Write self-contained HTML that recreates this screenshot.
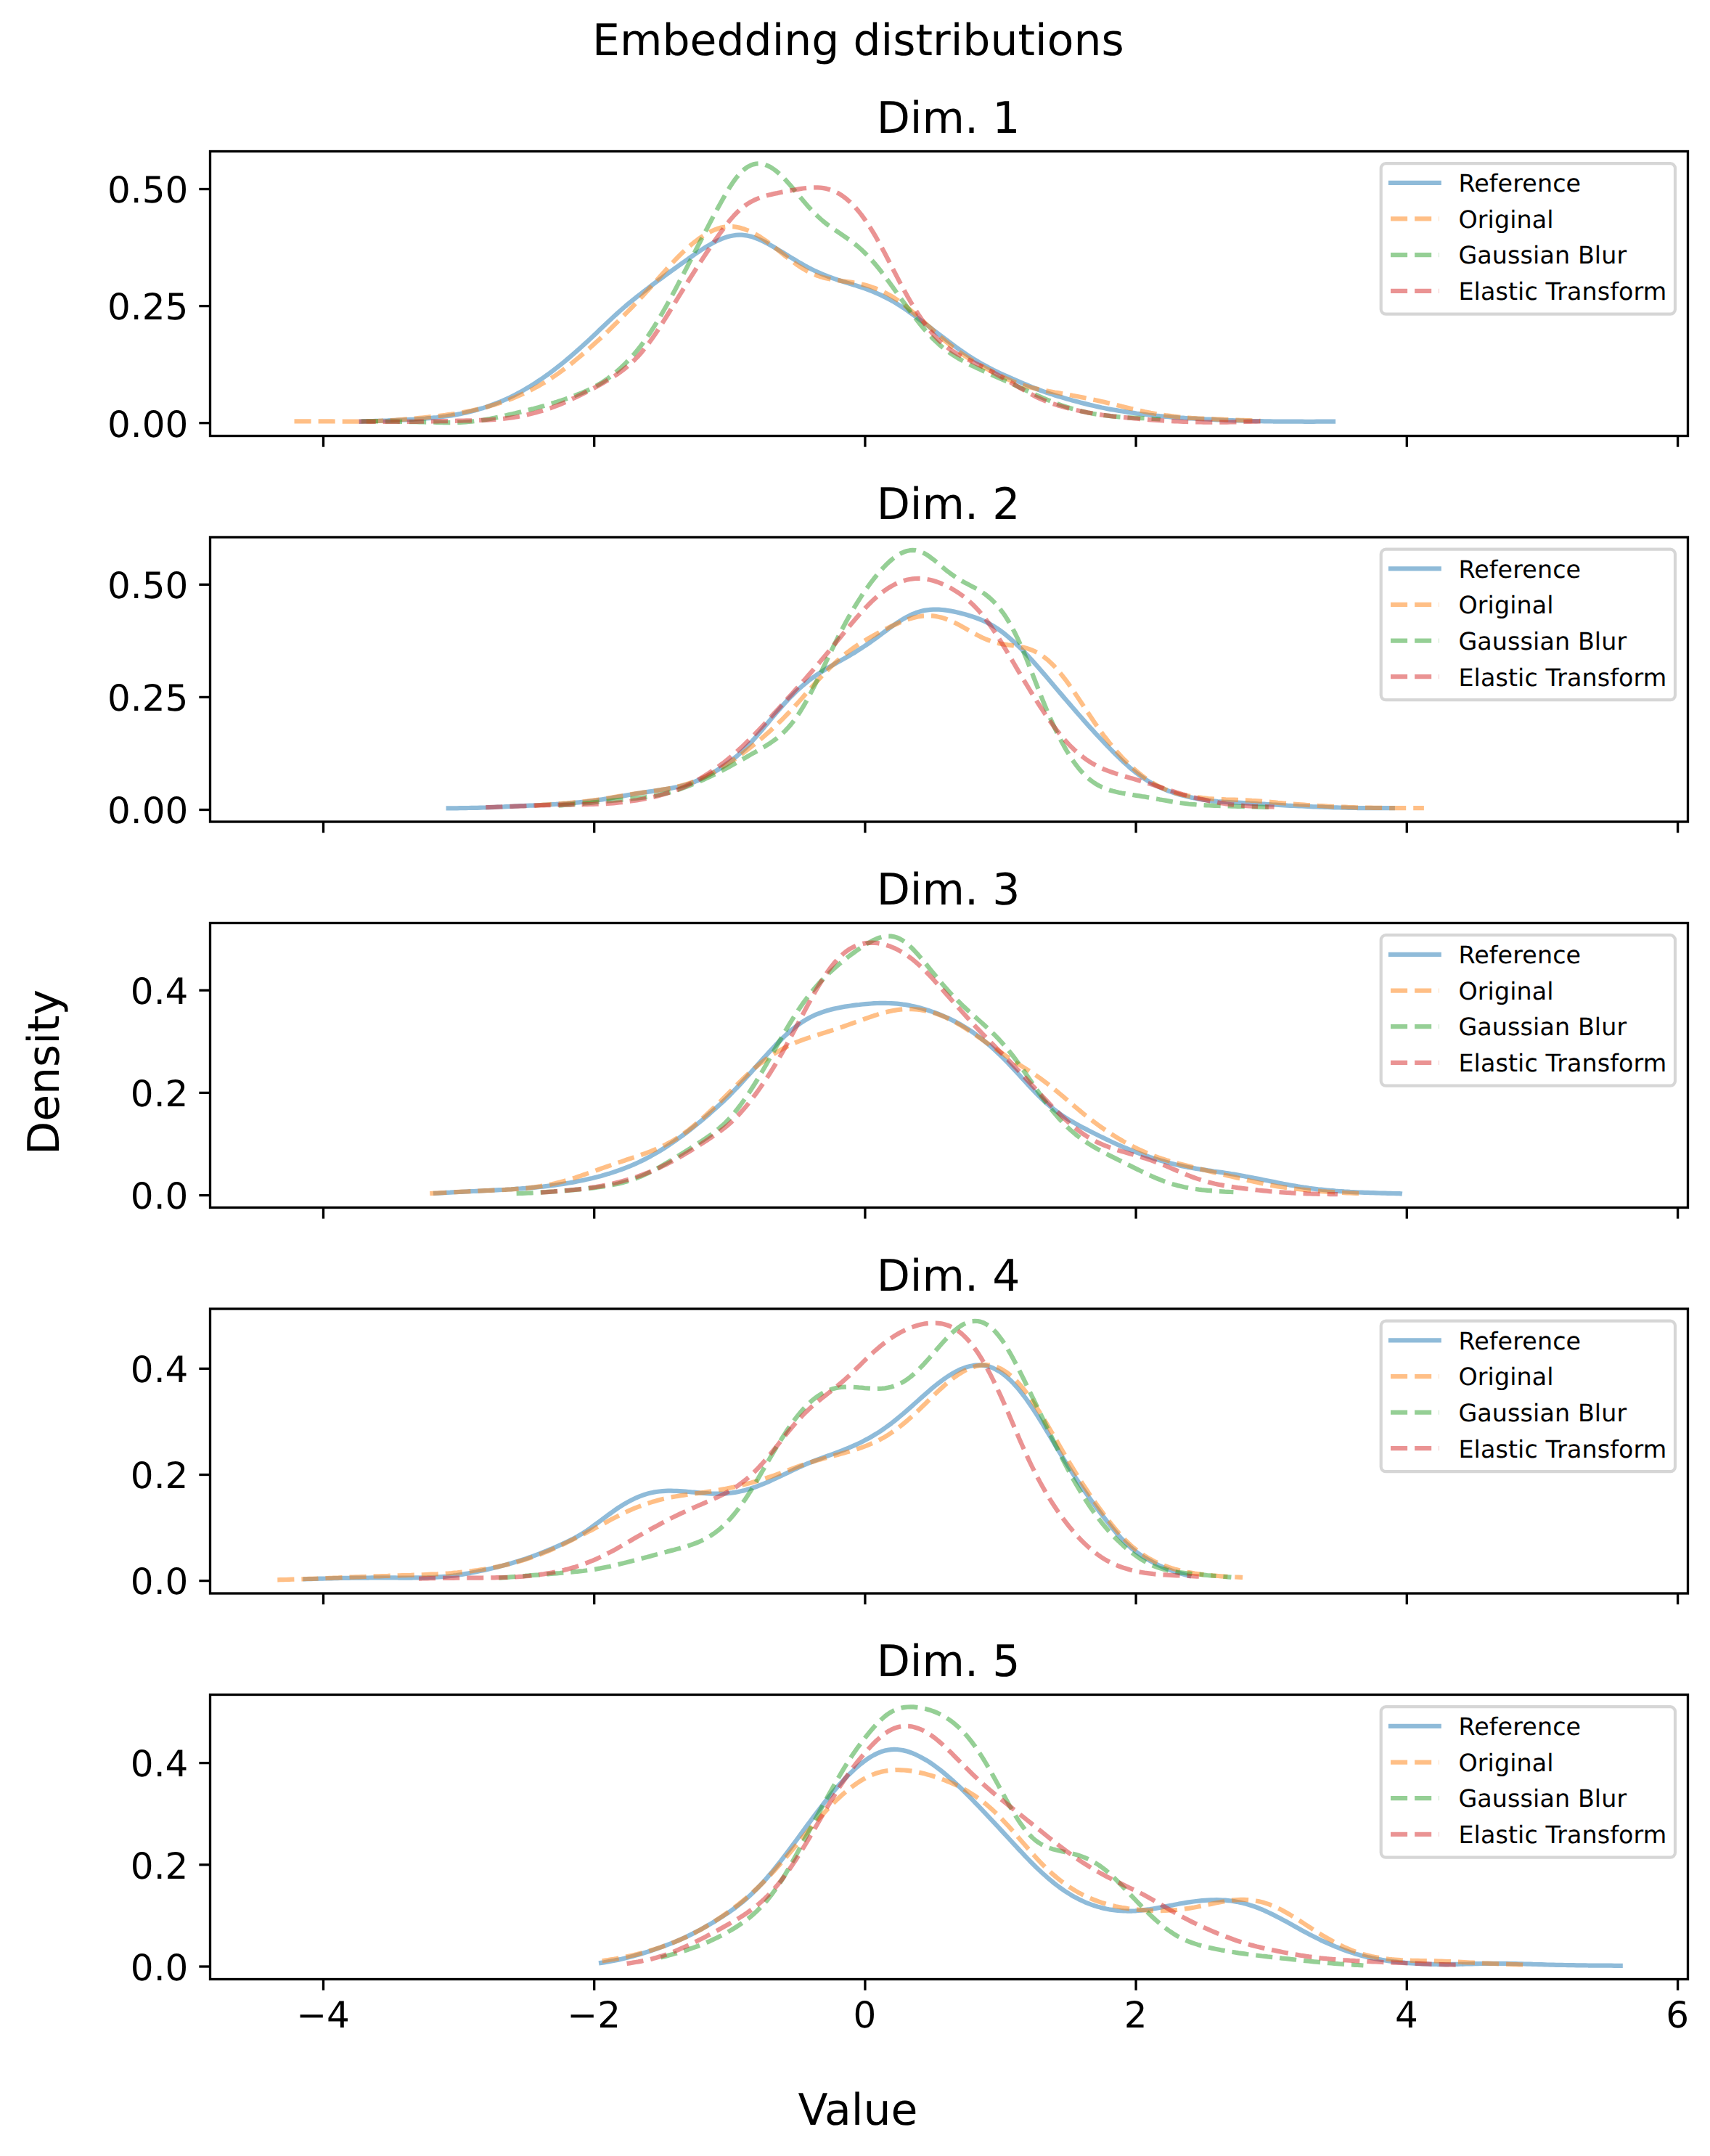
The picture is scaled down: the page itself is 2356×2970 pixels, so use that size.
<!DOCTYPE html>
<html><head><meta charset="utf-8"><title>Embedding distributions</title>
<style>html,body{margin:0;padding:0;background:#fff}svg{display:block}text{fill:#000;text-rendering:geometricPrecision}</style></head><body>
<svg width="2356" height="2970" viewBox="0 0 2356 2970">
<rect width="2356" height="2970" fill="#fff"/>
<text x="1182.4" y="75.8" font-size="60" text-anchor="middle" font-family="DejaVu Sans, Liberation Sans, sans-serif">Embedding distributions</text>
<text x="1182" y="2927" font-size="60" text-anchor="middle" font-family="DejaVu Sans, Liberation Sans, sans-serif">Value</text>
<text transform="translate(81 1477) rotate(-90)" font-size="60" text-anchor="middle" font-family="DejaVu Sans, Liberation Sans, sans-serif">Density</text>
<g id="ax1">
<clipPath id="clip1"><rect x="289.5" y="208.5" width="2036.0" height="392.0"/></clipPath>
<g clip-path="url(#clip1)" fill="none" stroke-width="6.25" stroke-opacity="0.5" stroke-linejoin="round">
<path d="M498.0 580.6 L502.0 580.4 L506.0 580.3 L510.0 580.2 L514.0 580.1 L518.0 579.9 L522.0 579.8 L526.0 579.7 L530.0 579.5 L534.0 579.4 L538.0 579.2 L542.0 579.1 L546.0 578.9 L550.0 578.7 L554.0 578.5 L558.0 578.3 L562.0 578.1 L566.0 577.9 L570.0 577.7 L574.0 577.4 L578.0 577.1 L582.0 576.8 L586.0 576.5 L590.0 576.1 L594.0 575.8 L598.0 575.4 L602.0 575.0 L606.0 574.5 L610.0 574.0 L614.0 573.5 L618.0 572.9 L622.0 572.3 L626.0 571.6 L630.0 570.9 L634.0 570.1 L638.0 569.2 L642.0 568.4 L646.0 567.4 L650.0 566.4 L654.0 565.4 L658.0 564.3 L662.0 563.1 L666.0 561.9 L670.0 560.6 L674.0 559.2 L678.0 557.8 L682.0 556.3 L686.0 554.7 L690.0 553.1 L694.0 551.4 L698.0 549.6 L702.0 547.7 L706.0 545.7 L710.0 543.7 L714.0 541.6 L718.0 539.4 L722.0 537.1 L726.0 534.8 L730.0 532.4 L734.0 529.9 L738.0 527.4 L742.0 524.7 L746.0 522.0 L750.0 519.2 L754.0 516.4 L758.0 513.4 L762.0 510.5 L766.0 507.4 L770.0 504.3 L774.0 501.1 L778.0 497.8 L782.0 494.5 L786.0 491.1 L790.0 487.7 L794.0 484.2 L798.0 480.6 L802.0 477.0 L806.0 473.4 L810.0 469.7 L814.0 466.0 L818.0 462.2 L822.0 458.4 L826.0 454.6 L830.0 450.8 L834.0 447.0 L838.0 443.2 L842.0 439.5 L846.0 435.8 L850.0 432.1 L854.0 428.5 L858.0 425.0 L862.0 421.5 L866.0 418.2 L870.0 414.9 L874.0 411.7 L878.0 408.5 L882.0 405.4 L886.0 402.3 L890.0 399.2 L894.0 396.1 L898.0 393.1 L902.0 390.1 L906.0 387.1 L910.0 384.2 L914.0 381.2 L918.0 378.3 L922.0 375.4 L926.0 372.5 L930.0 369.6 L934.0 366.7 L938.0 363.9 L942.0 361.0 L946.0 358.2 L950.0 355.4 L954.0 352.6 L958.0 349.8 L962.0 347.1 L966.0 344.5 L970.0 341.9 L974.0 339.4 L978.0 337.1 L982.0 334.8 L986.0 332.8 L990.0 330.8 L994.0 329.1 L998.0 327.6 L1002.0 326.3 L1006.0 325.3 L1010.0 324.5 L1014.0 323.9 L1018.0 323.7 L1022.0 323.7 L1026.0 324.1 L1030.0 324.7 L1034.0 325.6 L1038.0 326.7 L1042.0 328.2 L1046.0 329.8 L1050.0 331.6 L1054.0 333.6 L1058.0 335.7 L1062.0 338.0 L1066.0 340.3 L1070.0 342.7 L1074.0 345.1 L1078.0 347.5 L1082.0 350.0 L1086.0 352.5 L1090.0 354.9 L1094.0 357.3 L1098.0 359.7 L1102.0 362.1 L1106.0 364.3 L1110.0 366.6 L1114.0 368.7 L1118.0 370.8 L1122.0 372.7 L1126.0 374.6 L1130.0 376.4 L1134.0 378.1 L1138.0 379.7 L1142.0 381.3 L1146.0 382.7 L1150.0 384.1 L1154.0 385.5 L1158.0 386.8 L1162.0 388.0 L1166.0 389.3 L1170.0 390.5 L1174.0 391.7 L1178.0 392.9 L1182.0 394.2 L1186.0 395.5 L1190.0 396.9 L1194.0 398.3 L1198.0 399.8 L1202.0 401.4 L1206.0 403.1 L1210.0 404.8 L1214.0 406.6 L1218.0 408.6 L1222.0 410.6 L1226.0 412.7 L1230.0 414.9 L1234.0 417.3 L1238.0 419.8 L1242.0 422.3 L1246.0 425.0 L1250.0 427.8 L1254.0 430.6 L1258.0 433.5 L1262.0 436.4 L1266.0 439.4 L1270.0 442.4 L1274.0 445.4 L1278.0 448.5 L1282.0 451.5 L1286.0 454.6 L1290.0 457.7 L1294.0 460.7 L1298.0 463.8 L1302.0 466.8 L1306.0 469.8 L1310.0 472.8 L1314.0 475.8 L1318.0 478.7 L1322.0 481.6 L1326.0 484.4 L1330.0 487.1 L1334.0 489.8 L1338.0 492.4 L1342.0 494.9 L1346.0 497.3 L1350.0 499.6 L1354.0 501.9 L1358.0 504.1 L1362.0 506.3 L1366.0 508.3 L1370.0 510.4 L1374.0 512.3 L1378.0 514.2 L1382.0 516.0 L1386.0 517.8 L1390.0 519.6 L1394.0 521.4 L1398.0 523.1 L1402.0 524.9 L1406.0 526.6 L1410.0 528.3 L1414.0 530.0 L1418.0 531.7 L1422.0 533.3 L1426.0 534.9 L1430.0 536.5 L1434.0 538.0 L1438.0 539.4 L1442.0 540.8 L1446.0 542.1 L1450.0 543.4 L1454.0 544.7 L1458.0 545.9 L1462.0 547.1 L1466.0 548.3 L1470.0 549.4 L1474.0 550.6 L1478.0 551.7 L1482.0 552.7 L1486.0 553.8 L1490.0 554.9 L1494.0 555.9 L1498.0 556.9 L1502.0 557.9 L1506.0 558.8 L1510.0 559.7 L1514.0 560.6 L1518.0 561.5 L1522.0 562.3 L1526.0 563.1 L1530.0 563.8 L1534.0 564.5 L1538.0 565.2 L1542.0 565.9 L1546.0 566.5 L1550.0 567.1 L1554.0 567.8 L1558.0 568.4 L1562.0 568.9 L1566.0 569.5 L1570.0 570.0 L1574.0 570.5 L1578.0 571.0 L1582.0 571.5 L1586.0 571.9 L1590.0 572.4 L1594.0 572.8 L1598.0 573.2 L1602.0 573.5 L1606.0 573.9 L1610.0 574.2 L1614.0 574.6 L1618.0 574.9 L1622.0 575.2 L1626.0 575.5 L1630.0 575.7 L1634.0 576.0 L1638.0 576.3 L1642.0 576.5 L1646.0 576.7 L1650.0 576.9 L1654.0 577.1 L1658.0 577.3 L1662.0 577.5 L1666.0 577.7 L1670.0 577.9 L1674.0 578.1 L1678.0 578.3 L1682.0 578.5 L1686.0 578.7 L1690.0 578.8 L1694.0 579.0 L1698.0 579.1 L1702.0 579.3 L1706.0 579.4 L1710.0 579.5 L1714.0 579.7 L1718.0 579.8 L1722.0 579.9 L1726.0 580.0 L1730.0 580.1 L1734.0 580.1 L1738.0 580.2 L1742.0 580.3 L1746.0 580.4 L1750.0 580.4 L1754.0 580.5 L1758.0 580.5 L1762.0 580.6 L1766.0 580.6 L1770.0 580.7 L1774.0 580.7 L1778.0 580.7 L1782.0 580.7 L1786.0 580.7 L1790.0 580.7 L1794.0 580.7 L1798.0 580.8 L1802.0 580.8 L1806.0 580.8 L1810.0 580.8 L1814.0 580.7 L1818.0 580.7 L1822.0 580.7 L1826.0 580.7 L1830.0 580.7 L1834.0 580.7 L1837.0 580.7" stroke="#1f77b4" stroke-linecap="square"/>
<path d="M405.5 580.3 L409.5 580.3 L413.5 580.3 L417.5 580.3 L421.5 580.3 L425.5 580.3 L429.5 580.3 L433.5 580.3 L437.5 580.3 L441.5 580.3 L445.5 580.4 L449.5 580.4 L453.5 580.4 L457.5 580.4 L461.5 580.5 L465.5 580.5 L469.5 580.5 L473.5 580.5 L477.5 580.6 L481.5 580.6 L485.5 580.6 L489.5 580.6 L493.5 580.5 L497.5 580.5 L501.5 580.4 L505.5 580.4 L509.5 580.3 L513.5 580.2 L517.5 580.0 L521.5 579.9 L525.5 579.7 L529.5 579.5 L533.5 579.3 L537.5 579.1 L541.5 578.8 L545.5 578.6 L549.5 578.3 L553.5 578.0 L557.5 577.7 L561.5 577.4 L565.5 577.0 L569.5 576.7 L573.5 576.3 L577.5 575.9 L581.5 575.5 L585.5 575.1 L589.5 574.7 L593.5 574.2 L597.5 573.8 L601.5 573.3 L605.5 572.8 L609.5 572.3 L613.5 571.8 L617.5 571.2 L621.5 570.7 L625.5 570.1 L629.5 569.4 L633.5 568.8 L637.5 568.1 L641.5 567.3 L645.5 566.5 L649.5 565.7 L653.5 564.8 L657.5 563.9 L661.5 562.9 L665.5 561.9 L669.5 560.9 L673.5 559.7 L677.5 558.6 L681.5 557.4 L685.5 556.1 L689.5 554.8 L693.5 553.5 L697.5 552.0 L701.5 550.6 L705.5 549.0 L709.5 547.4 L713.5 545.7 L717.5 543.9 L721.5 542.1 L725.5 540.2 L729.5 538.2 L733.5 536.2 L737.5 534.1 L741.5 531.9 L745.5 529.6 L749.5 527.3 L753.5 524.8 L757.5 522.3 L761.5 519.7 L765.5 517.0 L769.5 514.2 L773.5 511.3 L777.5 508.3 L781.5 505.3 L785.5 502.2 L789.5 499.0 L793.5 495.7 L797.5 492.4 L801.5 489.0 L805.5 485.5 L809.5 482.1 L813.5 478.5 L817.5 474.9 L821.5 471.3 L825.5 467.7 L829.5 463.9 L833.5 460.2 L837.5 456.4 L841.5 452.5 L845.5 448.6 L849.5 444.6 L853.5 440.7 L857.5 436.7 L861.5 432.6 L865.5 428.6 L869.5 424.5 L873.5 420.3 L877.5 416.1 L881.5 411.9 L885.5 407.6 L889.5 403.2 L893.5 398.8 L897.5 394.3 L901.5 389.8 L905.5 385.3 L909.5 380.8 L913.5 376.3 L917.5 371.8 L921.5 367.4 L925.5 363.0 L929.5 358.8 L933.5 354.7 L937.5 350.7 L941.5 346.8 L945.5 343.1 L949.5 339.5 L953.5 336.2 L957.5 332.9 L961.5 329.9 L965.5 327.1 L969.5 324.5 L973.5 322.0 L977.5 319.8 L981.5 317.9 L985.5 316.2 L989.5 314.7 L993.5 313.6 L997.5 312.8 L1001.5 312.3 L1005.5 312.1 L1009.5 312.2 L1013.5 312.7 L1017.5 313.4 L1021.5 314.4 L1025.5 315.6 L1029.5 317.1 L1033.5 318.8 L1037.5 320.7 L1041.5 322.9 L1045.5 325.2 L1049.5 327.8 L1053.5 330.5 L1057.5 333.4 L1061.5 336.3 L1065.5 339.4 L1069.5 342.6 L1073.5 345.8 L1077.5 349.0 L1081.5 352.2 L1085.5 355.3 L1089.5 358.4 L1093.5 361.4 L1097.5 364.3 L1101.5 367.0 L1105.5 369.5 L1109.5 371.9 L1113.5 374.1 L1117.5 376.1 L1121.5 377.9 L1125.5 379.5 L1129.5 380.9 L1133.5 382.1 L1137.5 383.1 L1141.5 384.0 L1145.5 384.8 L1149.5 385.5 L1153.5 386.1 L1157.5 386.7 L1161.5 387.3 L1165.5 387.8 L1169.5 388.3 L1173.5 388.9 L1177.5 389.6 L1181.5 390.3 L1185.5 391.1 L1189.5 392.1 L1193.5 393.1 L1197.5 394.3 L1201.5 395.6 L1205.5 397.0 L1209.5 398.6 L1213.5 400.4 L1217.5 402.2 L1221.5 404.3 L1225.5 406.4 L1229.5 408.8 L1233.5 411.3 L1237.5 414.0 L1241.5 416.9 L1245.5 419.9 L1249.5 423.1 L1253.5 426.4 L1257.5 429.8 L1261.5 433.3 L1265.5 436.8 L1269.5 440.4 L1273.5 444.0 L1277.5 447.7 L1281.5 451.3 L1285.5 455.0 L1289.5 458.6 L1293.5 462.1 L1297.5 465.7 L1301.5 469.1 L1305.5 472.4 L1309.5 475.7 L1313.5 478.8 L1317.5 481.8 L1321.5 484.8 L1325.5 487.6 L1329.5 490.3 L1333.5 492.9 L1337.5 495.5 L1341.5 497.9 L1345.5 500.3 L1349.5 502.6 L1353.5 504.8 L1357.5 507.0 L1361.5 509.1 L1365.5 511.1 L1369.5 513.2 L1373.5 515.2 L1377.5 517.2 L1381.5 519.1 L1385.5 521.0 L1389.5 522.8 L1393.5 524.6 L1397.5 526.2 L1401.5 527.8 L1405.5 529.2 L1409.5 530.6 L1413.5 531.8 L1417.5 532.9 L1421.5 534.0 L1425.5 535.0 L1429.5 535.9 L1433.5 536.8 L1437.5 537.6 L1441.5 538.3 L1445.5 539.1 L1449.5 539.8 L1453.5 540.5 L1457.5 541.1 L1461.5 541.9 L1465.5 542.6 L1469.5 543.3 L1473.5 544.0 L1477.5 544.8 L1481.5 545.5 L1485.5 546.3 L1489.5 547.1 L1493.5 547.9 L1497.5 548.7 L1501.5 549.5 L1505.5 550.4 L1509.5 551.2 L1513.5 552.1 L1517.5 553.0 L1521.5 553.9 L1525.5 554.9 L1529.5 555.8 L1533.5 556.8 L1537.5 557.8 L1541.5 558.8 L1545.5 559.8 L1549.5 560.7 L1553.5 561.7 L1557.5 562.7 L1561.5 563.6 L1565.5 564.5 L1569.5 565.4 L1573.5 566.3 L1577.5 567.2 L1581.5 568.0 L1585.5 568.8 L1589.5 569.5 L1593.5 570.3 L1597.5 570.9 L1601.5 571.6 L1605.5 572.2 L1609.5 572.7 L1613.5 573.2 L1617.5 573.7 L1621.5 574.1 L1625.5 574.5 L1629.5 574.9 L1633.5 575.2 L1637.5 575.5 L1641.5 575.8 L1645.5 576.0 L1649.5 576.3 L1653.5 576.5 L1657.5 576.7 L1661.5 576.9 L1665.5 577.1 L1669.5 577.2 L1673.5 577.4 L1677.5 577.6 L1681.5 577.7 L1685.5 577.9 L1689.5 578.1 L1693.5 578.2 L1697.5 578.4 L1701.5 578.5 L1705.5 578.6 L1709.5 578.8 L1713.5 578.9 L1717.5 579.1 L1721.5 579.2 L1725.5 579.3 L1729.5 579.4 L1733.5 579.5 L1736.3 579.6" stroke="#ff7f0e" stroke-dasharray="23.1 10"/>
<path d="M497.9 580.3 L501.9 580.3 L505.9 580.3 L509.9 580.3 L513.9 580.4 L517.9 580.4 L521.9 580.4 L525.9 580.5 L529.9 580.5 L533.9 580.5 L537.9 580.6 L541.9 580.6 L545.9 580.7 L549.9 580.8 L553.9 580.8 L557.9 580.9 L561.9 581.0 L565.9 581.1 L569.9 581.1 L573.9 581.2 L577.9 581.3 L581.9 581.4 L585.9 581.5 L589.9 581.6 L593.9 581.7 L597.9 581.7 L601.9 581.8 L605.9 581.9 L609.9 582.0 L613.9 582.0 L617.9 582.0 L621.9 582.0 L625.9 582.0 L629.9 581.9 L633.9 581.8 L637.9 581.6 L641.9 581.3 L645.9 581.0 L649.9 580.7 L653.9 580.2 L657.9 579.8 L661.9 579.2 L665.9 578.6 L669.9 577.9 L673.9 577.2 L677.9 576.4 L681.9 575.6 L685.9 574.7 L689.9 573.9 L693.9 573.0 L697.9 572.1 L701.9 571.1 L705.9 570.2 L709.9 569.3 L713.9 568.3 L717.9 567.4 L721.9 566.4 L725.9 565.4 L729.9 564.4 L733.9 563.4 L737.9 562.3 L741.9 561.2 L745.9 560.1 L749.9 559.0 L753.9 557.8 L757.9 556.6 L761.9 555.3 L765.9 554.1 L769.9 552.8 L773.9 551.5 L777.9 550.1 L781.9 548.7 L785.9 547.3 L789.9 545.8 L793.9 544.3 L797.9 542.7 L801.9 541.1 L805.9 539.3 L809.9 537.5 L813.9 535.6 L817.9 533.5 L821.9 531.3 L825.9 529.0 L829.9 526.6 L833.9 523.9 L837.9 521.1 L841.9 518.1 L845.9 514.9 L849.9 511.6 L853.9 508.0 L857.9 504.3 L861.9 500.4 L865.9 496.3 L869.9 492.0 L873.9 487.5 L877.9 482.7 L881.9 477.7 L885.9 472.5 L889.9 466.9 L893.9 461.2 L897.9 455.1 L901.9 448.9 L905.9 442.4 L909.9 435.7 L913.9 428.8 L917.9 421.7 L921.9 414.5 L925.9 407.1 L929.9 399.7 L933.9 392.1 L937.9 384.5 L941.9 376.9 L945.9 369.2 L949.9 361.4 L953.9 353.7 L957.9 345.9 L961.9 338.2 L965.9 330.5 L969.9 322.7 L973.9 315.1 L977.9 307.4 L981.9 299.8 L985.9 292.3 L989.9 284.9 L993.9 277.7 L997.9 270.6 L1001.9 263.8 L1005.9 257.2 L1009.9 251.1 L1013.9 245.6 L1017.9 240.6 L1021.9 236.4 L1025.9 232.9 L1029.9 230.0 L1033.9 227.9 L1037.9 226.4 L1041.9 225.6 L1045.9 225.4 L1049.9 225.9 L1053.9 226.8 L1057.9 228.4 L1061.9 230.4 L1065.9 233.0 L1069.9 236.0 L1073.9 239.4 L1077.9 243.3 L1081.9 247.4 L1085.9 251.8 L1089.9 256.4 L1093.9 261.2 L1097.9 266.0 L1101.9 270.8 L1105.9 275.6 L1109.9 280.3 L1113.9 284.8 L1117.9 289.2 L1121.9 293.4 L1125.9 297.3 L1129.9 301.0 L1133.9 304.5 L1137.9 307.7 L1141.9 310.8 L1145.9 313.7 L1149.9 316.5 L1153.9 319.2 L1157.9 321.9 L1161.9 324.6 L1165.9 327.4 L1169.9 330.2 L1173.9 333.2 L1177.9 336.3 L1181.9 339.5 L1185.9 343.0 L1189.9 346.7 L1193.9 350.7 L1197.9 354.9 L1201.9 359.3 L1205.9 363.9 L1209.9 368.8 L1213.9 373.8 L1217.9 379.1 L1221.9 384.4 L1225.9 389.9 L1229.9 395.4 L1233.9 401.0 L1237.9 406.6 L1241.9 412.2 L1245.9 417.7 L1249.9 423.2 L1253.9 428.6 L1257.9 434.0 L1261.9 439.2 L1265.9 444.3 L1269.9 449.2 L1273.9 454.0 L1277.9 458.5 L1281.9 462.8 L1285.9 467.0 L1289.9 470.8 L1293.9 474.5 L1297.9 477.9 L1301.9 481.2 L1305.9 484.2 L1309.9 487.0 L1313.9 489.7 L1317.9 492.2 L1321.9 494.6 L1325.9 496.8 L1329.9 499.0 L1333.9 501.1 L1337.9 503.1 L1341.9 505.0 L1345.9 506.9 L1349.9 508.8 L1353.9 510.6 L1357.9 512.5 L1361.9 514.3 L1365.9 516.0 L1369.9 517.8 L1373.9 519.6 L1377.9 521.4 L1381.9 523.2 L1385.9 525.0 L1389.9 526.8 L1393.9 528.6 L1397.9 530.4 L1401.9 532.3 L1405.9 534.1 L1409.9 536.0 L1413.9 537.8 L1417.9 539.6 L1421.9 541.5 L1425.9 543.3 L1429.9 545.1 L1433.9 546.8 L1437.9 548.6 L1441.9 550.3 L1445.9 551.9 L1449.9 553.6 L1453.9 555.1 L1457.9 556.6 L1461.9 558.1 L1465.9 559.4 L1469.9 560.7 L1473.9 562.0 L1477.9 563.2 L1481.9 564.3 L1485.9 565.4 L1489.9 566.4 L1493.9 567.3 L1497.9 568.2 L1501.9 569.0 L1505.9 569.8 L1509.9 570.5 L1513.9 571.1 L1517.9 571.7 L1521.9 572.2 L1525.9 572.7 L1529.9 573.2 L1533.9 573.6 L1537.9 573.9 L1541.9 574.3 L1545.9 574.6 L1549.9 574.8 L1553.9 575.1 L1557.9 575.3 L1561.9 575.5 L1565.9 575.7 L1569.9 575.9 L1573.9 576.1 L1577.9 576.3 L1581.9 576.6 L1585.9 576.8 L1589.9 577.0 L1593.9 577.2 L1597.9 577.4 L1598.8 577.5" stroke="#2ca02c" stroke-dasharray="23.1 10"/>
<path d="M494.6 580.6 L498.6 580.7 L502.6 580.7 L506.6 580.7 L510.6 580.8 L514.6 580.8 L518.6 580.8 L522.6 580.9 L526.6 580.9 L530.6 580.9 L534.6 580.9 L538.6 580.9 L542.6 580.9 L546.6 580.9 L550.6 580.9 L554.6 580.9 L558.6 580.9 L562.6 580.9 L566.6 580.9 L570.6 580.8 L574.6 580.8 L578.6 580.7 L582.6 580.7 L586.6 580.6 L590.6 580.6 L594.6 580.5 L598.6 580.4 L602.6 580.3 L606.6 580.2 L610.6 580.1 L614.6 580.0 L618.6 580.0 L622.6 579.9 L626.6 579.8 L630.6 579.7 L634.6 579.6 L638.6 579.5 L642.6 579.4 L646.6 579.3 L650.6 579.3 L654.6 579.1 L658.6 579.0 L662.6 578.9 L666.6 578.7 L670.6 578.6 L674.6 578.4 L678.6 578.1 L682.6 577.8 L686.6 577.5 L690.6 577.1 L694.6 576.7 L698.6 576.2 L702.6 575.7 L706.6 575.1 L710.6 574.5 L714.6 573.8 L718.6 573.0 L722.6 572.2 L726.6 571.3 L730.6 570.3 L734.6 569.3 L738.6 568.3 L742.6 567.1 L746.6 566.0 L750.6 564.7 L754.6 563.4 L758.6 562.1 L762.6 560.6 L766.6 559.1 L770.6 557.5 L774.6 555.8 L778.6 554.1 L782.6 552.3 L786.6 550.4 L790.6 548.5 L794.6 546.6 L798.6 544.6 L802.6 542.6 L806.6 540.6 L810.6 538.6 L814.6 536.5 L818.6 534.4 L822.6 532.2 L826.6 530.0 L830.6 527.7 L834.6 525.4 L838.6 523.0 L842.6 520.6 L846.6 518.0 L850.6 515.3 L854.6 512.5 L858.6 509.5 L862.6 506.3 L866.6 502.9 L870.6 499.3 L874.6 495.4 L878.6 491.3 L882.6 486.9 L886.6 482.1 L890.6 477.1 L894.6 471.8 L898.6 466.2 L902.6 460.4 L906.6 454.4 L910.6 448.3 L914.6 441.9 L918.6 435.5 L922.6 429.0 L926.6 422.4 L930.6 415.9 L934.6 409.4 L938.6 402.8 L942.6 396.4 L946.6 389.9 L950.6 383.5 L954.6 377.2 L958.6 371.0 L962.6 364.8 L966.6 358.6 L970.6 352.6 L974.6 346.6 L978.6 340.6 L982.6 334.7 L986.6 329.0 L990.6 323.3 L994.6 317.8 L998.6 312.4 L1002.6 307.2 L1006.6 302.3 L1010.6 297.7 L1014.6 293.5 L1018.6 289.6 L1022.6 286.2 L1026.6 283.1 L1030.6 280.4 L1034.6 278.0 L1038.6 275.9 L1042.6 274.1 L1046.6 272.6 L1050.6 271.2 L1054.6 269.9 L1058.6 268.8 L1062.6 267.9 L1066.6 266.9 L1070.6 266.1 L1074.6 265.2 L1078.6 264.4 L1082.6 263.7 L1086.6 262.9 L1090.6 262.2 L1094.6 261.5 L1098.6 260.8 L1102.6 260.1 L1106.6 259.5 L1110.6 259.1 L1114.6 258.7 L1118.6 258.4 L1122.6 258.3 L1126.6 258.3 L1130.6 258.6 L1134.6 259.1 L1138.6 259.9 L1142.6 261.0 L1146.6 262.3 L1150.6 264.0 L1154.6 266.0 L1158.6 268.4 L1162.6 271.2 L1166.6 274.3 L1170.6 277.8 L1174.6 281.7 L1178.6 285.9 L1182.6 290.6 L1186.6 295.6 L1190.6 301.1 L1194.6 306.8 L1198.6 313.0 L1202.6 319.4 L1206.6 326.2 L1210.6 333.3 L1214.6 340.5 L1218.6 348.0 L1222.6 355.7 L1226.6 363.4 L1230.6 371.2 L1234.6 378.9 L1238.6 386.6 L1242.6 394.1 L1246.6 401.5 L1250.6 408.7 L1254.6 415.7 L1258.6 422.4 L1262.6 428.9 L1266.6 435.1 L1270.6 441.0 L1274.6 446.6 L1278.6 451.9 L1282.6 456.9 L1286.6 461.5 L1290.6 465.7 L1294.6 469.7 L1298.6 473.3 L1302.6 476.6 L1306.6 479.7 L1310.6 482.5 L1314.6 485.0 L1318.6 487.4 L1322.6 489.6 L1326.6 491.8 L1330.6 493.8 L1334.6 495.8 L1338.6 497.8 L1342.6 499.7 L1346.6 501.7 L1350.6 503.7 L1354.6 505.7 L1358.6 507.8 L1362.6 509.9 L1366.6 512.0 L1370.6 514.2 L1374.6 516.4 L1378.6 518.7 L1382.6 521.0 L1386.6 523.3 L1390.6 525.6 L1394.6 528.0 L1398.6 530.3 L1402.6 532.7 L1406.6 535.1 L1410.6 537.4 L1414.6 539.7 L1418.6 541.9 L1422.6 544.1 L1426.6 546.2 L1430.6 548.1 L1434.6 549.9 L1438.6 551.6 L1442.6 553.2 L1446.6 554.7 L1450.6 556.1 L1454.6 557.4 L1458.6 558.7 L1462.6 559.8 L1466.6 561.0 L1470.6 562.0 L1474.6 563.0 L1478.6 564.0 L1482.6 564.9 L1486.6 565.8 L1490.6 566.7 L1494.6 567.5 L1498.6 568.3 L1502.6 569.0 L1506.6 569.8 L1510.6 570.4 L1514.6 571.1 L1518.6 571.7 L1522.6 572.2 L1526.6 572.7 L1530.6 573.2 L1534.6 573.6 L1538.6 574.0 L1542.6 574.4 L1546.6 574.8 L1550.6 575.2 L1554.6 575.6 L1558.6 576.0 L1562.6 576.4 L1566.6 576.7 L1570.6 577.1 L1574.6 577.4 L1578.6 577.7 L1582.6 578.1 L1586.6 578.4 L1590.6 578.7 L1594.6 578.9 L1598.6 579.2 L1602.6 579.5 L1606.6 579.7 L1610.6 579.9 L1614.6 580.1 L1618.6 580.3 L1622.6 580.5 L1626.6 580.7 L1630.6 580.9 L1634.6 581.0 L1638.6 581.1 L1642.6 581.3 L1646.6 581.4 L1650.6 581.4 L1654.6 581.5 L1658.6 581.6 L1662.6 581.6 L1666.6 581.7 L1670.6 581.7 L1674.6 581.7 L1678.6 581.7 L1682.6 581.6 L1686.6 581.6 L1690.6 581.6 L1694.6 581.5 L1698.6 581.4 L1702.6 581.3 L1706.6 581.2 L1710.6 581.1 L1714.6 581.0 L1718.6 580.9 L1722.6 580.8 L1726.6 580.7 L1730.6 580.6 L1734.6 580.5 L1737.7 580.4" stroke="#d62728" stroke-dasharray="23.1 10"/>
</g>
<g stroke="#000" stroke-width="3.33">
<line x1="445.5" y1="600.5" x2="445.5" y2="615.7"/>
<line x1="818.7" y1="600.5" x2="818.7" y2="615.7"/>
<line x1="1191.9" y1="600.5" x2="1191.9" y2="615.7"/>
<line x1="1565.1" y1="600.5" x2="1565.1" y2="615.7"/>
<line x1="1938.3" y1="600.5" x2="1938.3" y2="615.7"/>
<line x1="2311.6" y1="600.5" x2="2311.6" y2="615.7"/>
<line x1="274.3" y1="582.7" x2="289.5" y2="582.7"/>
<line x1="274.3" y1="421.6" x2="289.5" y2="421.6"/>
<line x1="274.3" y1="260.5" x2="289.5" y2="260.5"/>
</g>
<text x="259.4" y="601.5" font-size="50" text-anchor="end" font-family="DejaVu Sans, Liberation Sans, sans-serif">0.00</text>
<text x="259.4" y="440.4" font-size="50" text-anchor="end" font-family="DejaVu Sans, Liberation Sans, sans-serif">0.25</text>
<text x="259.4" y="279.3" font-size="50" text-anchor="end" font-family="DejaVu Sans, Liberation Sans, sans-serif">0.50</text>
<rect x="289.5" y="208.5" width="2036.0" height="392.0" fill="none" stroke="#000" stroke-width="3.33" stroke-linejoin="miter"/>
<text x="1306.5" y="183.4" font-size="60" text-anchor="middle" font-family="DejaVu Sans, Liberation Sans, sans-serif">Dim. 1</text>
<rect x="1902.7" y="225.2" width="405.3" height="207.5" rx="6.67" ry="6.67" fill="#fff" fill-opacity="0.8" stroke="#cccccc" stroke-opacity="0.8" stroke-width="4.17"/>
<line x1="1916" y1="251.8" x2="1982.7" y2="251.8" stroke="#1f77b4" stroke-opacity="0.5" stroke-width="6.25" stroke-linecap="square"/>
<text x="2009.4" y="264.0" font-size="33.33" letter-spacing="0.11" font-family="DejaVu Sans, Liberation Sans, sans-serif">Reference</text>
<line x1="1916" y1="301.4" x2="1982.7" y2="301.4" stroke="#ff7f0e" stroke-opacity="0.5" stroke-width="6.25" stroke-dasharray="23.1 10"/>
<text x="2009.4" y="313.6" font-size="33.33" letter-spacing="0.11" font-family="DejaVu Sans, Liberation Sans, sans-serif">Original</text>
<line x1="1916" y1="351.1" x2="1982.7" y2="351.1" stroke="#2ca02c" stroke-opacity="0.5" stroke-width="6.25" stroke-dasharray="23.1 10"/>
<text x="2009.4" y="363.3" font-size="33.33" letter-spacing="0.11" font-family="DejaVu Sans, Liberation Sans, sans-serif">Gaussian Blur</text>
<line x1="1916" y1="400.8" x2="1982.7" y2="400.8" stroke="#d62728" stroke-opacity="0.5" stroke-width="6.25" stroke-dasharray="23.1 10"/>
<text x="2009.4" y="412.9" font-size="33.33" letter-spacing="0.11" font-family="DejaVu Sans, Liberation Sans, sans-serif">Elastic Transform</text>
</g>
<g id="ax2">
<clipPath id="clip2"><rect x="289.5" y="740.0" width="2036.0" height="392.0"/></clipPath>
<g clip-path="url(#clip2)" fill="none" stroke-width="6.25" stroke-opacity="0.5" stroke-linejoin="round">
<path d="M617.7 1113.4 L621.7 1113.4 L625.7 1113.3 L629.7 1113.3 L633.7 1113.2 L637.7 1113.2 L641.7 1113.1 L645.7 1113.0 L649.7 1112.9 L653.7 1112.9 L657.7 1112.8 L661.7 1112.6 L665.7 1112.5 L669.7 1112.4 L673.7 1112.2 L677.7 1112.1 L681.7 1111.9 L685.7 1111.7 L689.7 1111.5 L693.7 1111.4 L697.7 1111.2 L701.7 1111.0 L705.7 1110.8 L709.7 1110.6 L713.7 1110.4 L717.7 1110.2 L721.7 1110.1 L725.7 1109.9 L729.7 1109.7 L733.7 1109.6 L737.7 1109.4 L741.7 1109.2 L745.7 1109.0 L749.7 1108.8 L753.7 1108.6 L757.7 1108.4 L761.7 1108.1 L765.7 1107.9 L769.7 1107.6 L773.7 1107.4 L777.7 1107.1 L781.7 1106.8 L785.7 1106.4 L789.7 1106.1 L793.7 1105.7 L797.7 1105.3 L801.7 1104.9 L805.7 1104.5 L809.7 1104.0 L813.7 1103.5 L817.7 1103.0 L821.7 1102.5 L825.7 1101.9 L829.7 1101.3 L833.7 1100.7 L837.7 1100.1 L841.7 1099.4 L845.7 1098.7 L849.7 1098.0 L853.7 1097.3 L857.7 1096.6 L861.7 1095.9 L865.7 1095.2 L869.7 1094.5 L873.7 1093.9 L877.7 1093.2 L881.7 1092.5 L885.7 1091.9 L889.7 1091.3 L893.7 1090.7 L897.7 1090.1 L901.7 1089.5 L905.7 1088.9 L909.7 1088.3 L913.7 1087.7 L917.7 1087.0 L921.7 1086.3 L925.7 1085.6 L929.7 1084.8 L933.7 1084.0 L937.7 1083.1 L941.7 1082.0 L945.7 1080.9 L949.7 1079.6 L953.7 1078.2 L957.7 1076.7 L961.7 1075.0 L965.7 1073.2 L969.7 1071.3 L973.7 1069.3 L977.7 1067.1 L981.7 1064.8 L985.7 1062.5 L989.7 1060.0 L993.7 1057.4 L997.7 1054.7 L1001.7 1051.9 L1005.7 1049.0 L1009.7 1046.0 L1013.7 1042.8 L1017.7 1039.4 L1021.7 1035.8 L1025.7 1032.0 L1029.7 1028.0 L1033.7 1023.8 L1037.7 1019.4 L1041.7 1014.9 L1045.7 1010.3 L1049.7 1005.6 L1053.7 1000.8 L1057.7 996.1 L1061.7 991.3 L1065.7 986.5 L1069.7 981.8 L1073.7 977.2 L1077.7 972.6 L1081.7 968.2 L1085.7 963.9 L1089.7 959.7 L1093.7 955.7 L1097.7 951.8 L1101.7 948.2 L1105.7 944.7 L1109.7 941.3 L1113.7 938.1 L1117.7 935.1 L1121.7 932.2 L1125.7 929.4 L1129.7 926.8 L1133.7 924.2 L1137.7 921.8 L1141.7 919.4 L1145.7 917.1 L1149.7 914.8 L1153.7 912.6 L1157.7 910.3 L1161.7 908.1 L1165.7 905.8 L1169.7 903.5 L1173.7 901.1 L1177.7 898.7 L1181.7 896.2 L1185.7 893.7 L1189.7 891.0 L1193.7 888.3 L1197.7 885.6 L1201.7 882.7 L1205.7 879.9 L1209.7 876.9 L1213.7 874.0 L1217.7 871.0 L1221.7 868.1 L1225.7 865.1 L1229.7 862.3 L1233.7 859.5 L1237.7 856.8 L1241.7 854.3 L1245.7 851.9 L1249.7 849.7 L1253.7 847.7 L1257.7 845.9 L1261.7 844.3 L1265.7 842.9 L1269.7 841.8 L1273.7 840.9 L1277.7 840.3 L1281.7 839.8 L1285.7 839.6 L1289.7 839.5 L1293.7 839.7 L1297.7 840.0 L1301.7 840.4 L1305.7 841.0 L1309.7 841.7 L1313.7 842.4 L1317.7 843.3 L1321.7 844.2 L1325.7 845.3 L1329.7 846.3 L1333.7 847.5 L1337.7 848.7 L1341.7 850.0 L1345.7 851.5 L1349.7 853.0 L1353.7 854.7 L1357.7 856.5 L1361.7 858.5 L1365.7 860.7 L1369.7 863.0 L1373.7 865.6 L1377.7 868.4 L1381.7 871.3 L1385.7 874.5 L1389.7 877.8 L1393.7 881.3 L1397.7 884.9 L1401.7 888.7 L1405.7 892.6 L1409.7 896.6 L1413.7 900.8 L1417.7 905.0 L1421.7 909.4 L1425.7 913.8 L1429.7 918.3 L1433.7 923.0 L1437.7 927.6 L1441.7 932.3 L1445.7 937.1 L1449.7 941.8 L1453.7 946.5 L1457.7 951.2 L1461.7 955.9 L1465.7 960.6 L1469.7 965.2 L1473.7 969.9 L1477.7 974.5 L1481.7 979.1 L1485.7 983.7 L1489.7 988.3 L1493.7 992.8 L1497.7 997.3 L1501.7 1001.8 L1505.7 1006.2 L1509.7 1010.6 L1513.7 1014.9 L1517.7 1019.1 L1521.7 1023.4 L1525.7 1027.5 L1529.7 1031.6 L1533.7 1035.7 L1537.7 1039.7 L1541.7 1043.6 L1545.7 1047.4 L1549.7 1051.2 L1553.7 1054.8 L1557.7 1058.3 L1561.7 1061.6 L1565.7 1064.8 L1569.7 1067.8 L1573.7 1070.7 L1577.7 1073.4 L1581.7 1075.9 L1585.7 1078.3 L1589.7 1080.5 L1593.7 1082.5 L1597.7 1084.4 L1601.7 1086.2 L1605.7 1087.9 L1609.7 1089.5 L1613.7 1090.9 L1617.7 1092.3 L1621.7 1093.5 L1625.7 1094.7 L1629.7 1095.8 L1633.7 1096.8 L1637.7 1097.8 L1641.7 1098.6 L1645.7 1099.5 L1649.7 1100.2 L1653.7 1101.0 L1657.7 1101.6 L1661.7 1102.2 L1665.7 1102.8 L1669.7 1103.3 L1673.7 1103.7 L1677.7 1104.1 L1681.7 1104.4 L1685.7 1104.7 L1689.7 1104.9 L1693.7 1105.1 L1697.7 1105.3 L1701.7 1105.5 L1705.7 1105.7 L1709.7 1105.9 L1713.7 1106.1 L1717.7 1106.3 L1721.7 1106.6 L1725.7 1106.8 L1729.7 1107.0 L1733.7 1107.3 L1737.7 1107.5 L1741.7 1107.7 L1745.7 1108.0 L1749.7 1108.2 L1753.7 1108.5 L1757.7 1108.7 L1761.7 1108.9 L1765.7 1109.1 L1769.7 1109.3 L1773.7 1109.6 L1777.7 1109.8 L1781.7 1110.0 L1785.7 1110.2 L1789.7 1110.4 L1793.7 1110.5 L1797.7 1110.7 L1801.7 1110.9 L1805.7 1111.1 L1809.7 1111.3 L1813.7 1111.4 L1817.7 1111.6 L1821.7 1111.7 L1825.7 1111.9 L1829.7 1112.0 L1833.7 1112.1 L1837.7 1112.3 L1841.7 1112.4 L1845.7 1112.5 L1849.7 1112.6 L1853.7 1112.7 L1857.7 1112.8 L1861.7 1112.8 L1865.7 1112.9 L1869.7 1113.0 L1873.7 1113.0 L1877.7 1113.1 L1881.7 1113.1 L1885.7 1113.1 L1889.7 1113.1 L1893.7 1113.1 L1897.7 1113.2 L1901.7 1113.2 L1905.7 1113.2 L1909.7 1113.2 L1913.7 1113.2 L1917.7 1113.2 L1918.8 1113.2" stroke="#1f77b4" stroke-linecap="square"/>
<path d="M736.8 1109.6 L740.8 1109.3 L744.8 1109.0 L748.8 1108.7 L752.8 1108.5 L756.8 1108.2 L760.8 1107.9 L764.8 1107.6 L768.8 1107.3 L772.8 1107.0 L776.8 1106.7 L780.8 1106.4 L784.8 1106.0 L788.8 1105.7 L792.8 1105.3 L796.8 1105.0 L800.8 1104.6 L804.8 1104.1 L808.8 1103.7 L812.8 1103.2 L816.8 1102.7 L820.8 1102.1 L824.8 1101.5 L828.8 1100.9 L832.8 1100.3 L836.8 1099.6 L840.8 1099.0 L844.8 1098.3 L848.8 1097.6 L852.8 1096.9 L856.8 1096.3 L860.8 1095.6 L864.8 1094.9 L868.8 1094.3 L872.8 1093.7 L876.8 1093.1 L880.8 1092.5 L884.8 1091.9 L888.8 1091.3 L892.8 1090.7 L896.8 1090.1 L900.8 1089.6 L904.8 1089.0 L908.8 1088.4 L912.8 1087.7 L916.8 1087.0 L920.8 1086.3 L924.8 1085.5 L928.8 1084.7 L932.8 1083.8 L936.8 1082.8 L940.8 1081.7 L944.8 1080.5 L948.8 1079.3 L952.8 1077.9 L956.8 1076.4 L960.8 1074.9 L964.8 1073.2 L968.8 1071.4 L972.8 1069.5 L976.8 1067.5 L980.8 1065.5 L984.8 1063.3 L988.8 1061.0 L992.8 1058.7 L996.8 1056.2 L1000.8 1053.7 L1004.8 1051.0 L1008.8 1048.2 L1012.8 1045.4 L1016.8 1042.5 L1020.8 1039.6 L1024.8 1036.6 L1028.8 1033.6 L1032.8 1030.5 L1036.8 1027.4 L1040.8 1024.2 L1044.8 1020.9 L1048.8 1017.6 L1052.8 1014.2 L1056.8 1010.7 L1060.8 1007.1 L1064.8 1003.4 L1068.8 999.7 L1072.8 995.8 L1076.8 991.9 L1080.8 987.9 L1084.8 983.8 L1088.8 979.6 L1092.8 975.3 L1096.8 970.9 L1100.8 966.5 L1104.8 962.0 L1108.8 957.4 L1112.8 952.9 L1116.8 948.4 L1120.8 943.9 L1124.8 939.4 L1128.8 935.1 L1132.8 930.7 L1136.8 926.5 L1140.8 922.5 L1144.8 918.5 L1148.8 914.7 L1152.8 911.0 L1156.8 907.5 L1160.8 904.1 L1164.8 900.8 L1168.8 897.7 L1172.8 894.8 L1176.8 891.9 L1180.8 889.2 L1184.8 886.5 L1188.8 884.0 L1192.8 881.6 L1196.8 879.2 L1200.8 877.0 L1204.8 874.7 L1208.8 872.6 L1212.8 870.5 L1216.8 868.4 L1220.8 866.3 L1224.8 864.4 L1228.8 862.4 L1232.8 860.6 L1236.8 858.8 L1240.8 857.1 L1244.8 855.5 L1248.8 854.0 L1252.8 852.6 L1256.8 851.4 L1260.8 850.4 L1264.8 849.5 L1268.8 848.9 L1272.8 848.4 L1276.8 848.2 L1280.8 848.2 L1284.8 848.4 L1288.8 848.9 L1292.8 849.7 L1296.8 850.6 L1300.8 851.8 L1304.8 853.2 L1308.8 854.8 L1312.8 856.6 L1316.8 858.5 L1320.8 860.6 L1324.8 862.8 L1328.8 865.0 L1332.8 867.3 L1336.8 869.6 L1340.8 871.8 L1344.8 874.0 L1348.8 876.1 L1352.8 878.1 L1356.8 879.9 L1360.8 881.5 L1364.8 883.0 L1368.8 884.3 L1372.8 885.4 L1376.8 886.4 L1380.8 887.2 L1384.8 887.8 L1388.8 888.4 L1392.8 888.9 L1396.8 889.5 L1400.8 890.1 L1404.8 890.8 L1408.8 891.6 L1412.8 892.6 L1416.8 893.8 L1420.8 895.2 L1424.8 896.9 L1428.8 898.9 L1432.8 901.2 L1436.8 903.9 L1440.8 906.9 L1444.8 910.2 L1448.8 914.0 L1452.8 918.0 L1456.8 922.4 L1460.8 927.2 L1464.8 932.2 L1468.8 937.4 L1472.8 942.9 L1476.8 948.6 L1480.8 954.5 L1484.8 960.4 L1488.8 966.4 L1492.8 972.5 L1496.8 978.6 L1500.8 984.6 L1504.8 990.6 L1508.8 996.5 L1512.8 1002.2 L1516.8 1007.8 L1520.8 1013.3 L1524.8 1018.5 L1528.8 1023.6 L1532.8 1028.5 L1536.8 1033.2 L1540.8 1037.7 L1544.8 1042.1 L1548.8 1046.3 L1552.8 1050.3 L1556.8 1054.2 L1560.8 1057.9 L1564.8 1061.4 L1568.8 1064.8 L1572.8 1068.0 L1576.8 1071.0 L1580.8 1073.8 L1584.8 1076.4 L1588.8 1078.9 L1592.8 1081.2 L1596.8 1083.4 L1600.8 1085.3 L1604.8 1087.1 L1608.8 1088.7 L1612.8 1090.2 L1616.8 1091.5 L1620.8 1092.7 L1624.8 1093.8 L1628.8 1094.7 L1632.8 1095.6 L1636.8 1096.3 L1640.8 1097.0 L1644.8 1097.7 L1648.8 1098.2 L1652.8 1098.7 L1656.8 1099.2 L1660.8 1099.6 L1664.8 1100.0 L1668.8 1100.3 L1672.8 1100.6 L1676.8 1100.9 L1680.8 1101.1 L1684.8 1101.2 L1688.8 1101.4 L1692.8 1101.5 L1696.8 1101.6 L1700.8 1101.7 L1704.8 1101.8 L1708.8 1102.0 L1712.8 1102.1 L1716.8 1102.3 L1720.8 1102.5 L1724.8 1102.8 L1728.8 1103.0 L1732.8 1103.3 L1736.8 1103.6 L1740.8 1104.0 L1744.8 1104.3 L1748.8 1104.7 L1752.8 1105.0 L1756.8 1105.4 L1760.8 1105.8 L1764.8 1106.1 L1768.8 1106.5 L1772.8 1106.8 L1776.8 1107.1 L1780.8 1107.5 L1784.8 1107.8 L1788.8 1108.1 L1792.8 1108.4 L1796.8 1108.7 L1800.8 1109.0 L1804.8 1109.2 L1808.8 1109.5 L1812.8 1109.8 L1816.8 1110.0 L1820.8 1110.2 L1824.8 1110.4 L1828.8 1110.7 L1832.8 1110.9 L1836.8 1111.1 L1840.8 1111.2 L1844.8 1111.4 L1848.8 1111.6 L1852.8 1111.7 L1856.8 1111.9 L1860.8 1112.0 L1864.8 1112.1 L1868.8 1112.3 L1872.8 1112.4 L1876.8 1112.5 L1880.8 1112.6 L1884.8 1112.7 L1888.8 1112.7 L1892.8 1112.8 L1896.8 1112.9 L1900.8 1112.9 L1904.8 1113.0 L1908.8 1113.0 L1912.8 1113.0 L1916.8 1113.1 L1920.8 1113.1 L1924.8 1113.1 L1928.8 1113.1 L1932.8 1113.1 L1936.8 1113.2 L1940.8 1113.2 L1944.8 1113.2 L1948.8 1113.2 L1952.8 1113.2 L1956.8 1113.2 L1960.8 1113.2 L1961.9 1113.2" stroke="#ff7f0e" stroke-dasharray="23.1 10"/>
<path d="M769.6 1109.6 L773.6 1109.3 L777.6 1108.9 L781.6 1108.6 L785.6 1108.3 L789.6 1107.9 L793.6 1107.6 L797.6 1107.2 L801.6 1106.9 L805.6 1106.5 L809.6 1106.1 L813.6 1105.8 L817.6 1105.4 L821.6 1105.0 L825.6 1104.6 L829.6 1104.2 L833.6 1103.8 L837.6 1103.5 L841.6 1103.1 L845.6 1102.7 L849.6 1102.3 L853.6 1101.9 L857.6 1101.6 L861.6 1101.2 L865.6 1100.8 L869.6 1100.4 L873.6 1100.0 L877.6 1099.6 L881.6 1099.2 L885.6 1098.7 L889.6 1098.2 L893.6 1097.6 L897.6 1097.0 L901.6 1096.3 L905.6 1095.5 L909.6 1094.7 L913.6 1093.8 L917.6 1092.9 L921.6 1091.8 L925.6 1090.7 L929.6 1089.5 L933.6 1088.2 L937.6 1086.8 L941.6 1085.4 L945.6 1083.9 L949.6 1082.4 L953.6 1080.7 L957.6 1079.1 L961.6 1077.4 L965.6 1075.6 L969.6 1073.8 L973.6 1072.0 L977.6 1070.1 L981.6 1068.2 L985.6 1066.2 L989.6 1064.2 L993.6 1062.2 L997.6 1060.1 L1001.6 1058.0 L1005.6 1055.8 L1009.6 1053.6 L1013.6 1051.3 L1017.6 1049.0 L1021.6 1046.8 L1025.6 1044.5 L1029.6 1042.2 L1033.6 1039.9 L1037.6 1037.6 L1041.6 1035.4 L1045.6 1033.1 L1049.6 1030.7 L1053.6 1028.4 L1057.6 1025.9 L1061.6 1023.3 L1065.6 1020.5 L1069.6 1017.6 L1073.6 1014.3 L1077.6 1010.8 L1081.6 1007.0 L1085.6 1002.7 L1089.6 998.1 L1093.6 993.1 L1097.6 987.5 L1101.6 981.6 L1105.6 975.1 L1109.6 968.3 L1113.6 961.1 L1117.6 953.6 L1121.6 945.8 L1125.6 937.7 L1129.6 929.5 L1133.6 921.2 L1137.6 912.8 L1141.6 904.4 L1145.6 896.1 L1149.6 887.9 L1153.6 879.8 L1157.6 871.9 L1161.6 864.3 L1165.6 856.8 L1169.6 849.6 L1173.6 842.6 L1177.6 835.8 L1181.6 829.3 L1185.6 823.1 L1189.6 817.0 L1193.6 811.3 L1197.6 805.7 L1201.6 800.4 L1205.6 795.3 L1209.6 790.4 L1213.6 785.8 L1217.6 781.4 L1221.6 777.3 L1225.6 773.5 L1229.6 770.1 L1233.6 767.0 L1237.6 764.3 L1241.6 762.1 L1245.6 760.3 L1249.6 759.0 L1253.6 758.2 L1257.6 757.9 L1261.6 758.2 L1265.6 759.1 L1269.6 760.4 L1273.6 762.3 L1277.6 764.6 L1281.6 767.4 L1285.6 770.4 L1289.6 773.6 L1293.6 777.0 L1297.6 780.4 L1301.6 783.8 L1305.6 787.1 L1309.6 790.1 L1313.6 792.9 L1317.6 795.6 L1321.6 798.1 L1325.6 800.5 L1329.6 802.7 L1333.6 804.8 L1337.6 806.9 L1341.6 809.0 L1345.6 811.1 L1349.6 813.5 L1353.6 816.0 L1357.6 818.8 L1361.6 822.0 L1365.6 825.4 L1369.6 829.3 L1373.6 833.6 L1377.6 838.5 L1381.6 843.8 L1385.6 849.6 L1389.6 856.0 L1393.6 863.0 L1397.6 870.5 L1401.6 878.6 L1405.6 887.3 L1409.6 896.4 L1413.6 906.0 L1417.6 916.0 L1421.6 926.2 L1425.6 936.5 L1429.6 946.8 L1433.6 957.0 L1437.6 967.0 L1441.6 976.7 L1445.6 986.1 L1449.6 995.1 L1453.6 1003.7 L1457.6 1011.9 L1461.6 1019.7 L1465.6 1027.1 L1469.6 1034.1 L1473.6 1040.7 L1477.6 1046.8 L1481.6 1052.5 L1485.6 1057.7 L1489.6 1062.4 L1493.6 1066.7 L1497.6 1070.6 L1501.6 1074.0 L1505.6 1077.0 L1509.6 1079.7 L1513.6 1082.0 L1517.6 1084.1 L1521.6 1085.8 L1525.6 1087.4 L1529.6 1088.7 L1533.6 1089.8 L1537.6 1090.8 L1541.6 1091.7 L1545.6 1092.5 L1549.6 1093.2 L1553.6 1093.9 L1557.6 1094.5 L1561.6 1095.2 L1565.6 1095.8 L1569.6 1096.4 L1573.6 1097.1 L1577.6 1097.7 L1581.6 1098.4 L1585.6 1099.1 L1589.6 1099.8 L1593.6 1100.5 L1597.6 1101.3 L1601.6 1102.0 L1605.6 1102.7 L1609.6 1103.4 L1613.6 1104.1 L1617.6 1104.8 L1621.6 1105.4 L1625.6 1106.0 L1629.6 1106.5 L1633.6 1107.0 L1637.6 1107.5 L1641.6 1107.9 L1645.6 1108.2 L1649.6 1108.6 L1653.6 1108.9 L1657.6 1109.1 L1661.6 1109.3 L1665.6 1109.5 L1669.6 1109.7 L1673.6 1109.9 L1677.6 1110.0 L1681.6 1110.2 L1685.6 1110.3 L1689.6 1110.4 L1693.6 1110.5 L1697.6 1110.6 L1701.6 1110.7 L1705.6 1110.9 L1709.6 1111.0 L1713.6 1111.1 L1717.6 1111.2 L1721.6 1111.3 L1725.6 1111.4 L1729.6 1111.5 L1733.6 1111.6 L1737.6 1111.7 L1741.6 1111.8 L1745.6 1111.9 L1748.5 1111.9" stroke="#2ca02c" stroke-dasharray="23.1 10"/>
<path d="M669.3 1112.2 L673.3 1112.1 L677.3 1111.9 L681.3 1111.8 L685.3 1111.6 L689.3 1111.5 L693.3 1111.3 L697.3 1111.2 L701.3 1111.0 L705.3 1110.9 L709.3 1110.7 L713.3 1110.6 L717.3 1110.4 L721.3 1110.3 L725.3 1110.1 L729.3 1109.9 L733.3 1109.8 L737.3 1109.7 L741.3 1109.5 L745.3 1109.4 L749.3 1109.3 L753.3 1109.2 L757.3 1109.1 L761.3 1109.0 L765.3 1108.9 L769.3 1108.8 L773.3 1108.8 L777.3 1108.7 L781.3 1108.6 L785.3 1108.6 L789.3 1108.5 L793.3 1108.4 L797.3 1108.4 L801.3 1108.3 L805.3 1108.2 L809.3 1108.1 L813.3 1108.0 L817.3 1107.9 L821.3 1107.7 L825.3 1107.6 L829.3 1107.4 L833.3 1107.2 L837.3 1106.9 L841.3 1106.6 L845.3 1106.3 L849.3 1105.9 L853.3 1105.5 L857.3 1105.1 L861.3 1104.6 L865.3 1104.1 L869.3 1103.5 L873.3 1102.9 L877.3 1102.3 L881.3 1101.6 L885.3 1100.9 L889.3 1100.1 L893.3 1099.3 L897.3 1098.5 L901.3 1097.6 L905.3 1096.6 L909.3 1095.6 L913.3 1094.5 L917.3 1093.3 L921.3 1092.1 L925.3 1090.8 L929.3 1089.4 L933.3 1087.9 L937.3 1086.3 L941.3 1084.6 L945.3 1082.8 L949.3 1080.8 L953.3 1078.8 L957.3 1076.7 L961.3 1074.5 L965.3 1072.1 L969.3 1069.7 L973.3 1067.2 L977.3 1064.6 L981.3 1061.9 L985.3 1059.2 L989.3 1056.3 L993.3 1053.4 L997.3 1050.4 L1001.3 1047.2 L1005.3 1043.9 L1009.3 1040.5 L1013.3 1037.0 L1017.3 1033.4 L1021.3 1029.7 L1025.3 1025.9 L1029.3 1022.0 L1033.3 1018.1 L1037.3 1014.1 L1041.3 1010.0 L1045.3 1005.8 L1049.3 1001.6 L1053.3 997.3 L1057.3 993.0 L1061.3 988.6 L1065.3 984.2 L1069.3 979.9 L1073.3 975.5 L1077.3 971.1 L1081.3 966.6 L1085.3 962.2 L1089.3 957.8 L1093.3 953.4 L1097.3 948.9 L1101.3 944.5 L1105.3 940.0 L1109.3 935.5 L1113.3 930.9 L1117.3 926.4 L1121.3 921.7 L1125.3 917.0 L1129.3 912.3 L1133.3 907.5 L1137.3 902.7 L1141.3 897.9 L1145.3 893.0 L1149.3 888.2 L1153.3 883.3 L1157.3 878.4 L1161.3 873.5 L1165.3 868.7 L1169.3 863.8 L1173.3 859.0 L1177.3 854.3 L1181.3 849.6 L1185.3 845.1 L1189.3 840.7 L1193.3 836.4 L1197.3 832.3 L1201.3 828.3 L1205.3 824.6 L1209.3 821.0 L1213.3 817.7 L1217.3 814.6 L1221.3 811.8 L1225.3 809.2 L1229.3 806.9 L1233.3 804.7 L1237.3 802.9 L1241.3 801.3 L1245.3 799.9 L1249.3 798.8 L1253.3 798.0 L1257.3 797.4 L1261.3 797.0 L1265.3 796.9 L1269.3 797.0 L1273.3 797.3 L1277.3 797.9 L1281.3 798.7 L1285.3 799.8 L1289.3 801.0 L1293.3 802.4 L1297.3 804.0 L1301.3 805.8 L1305.3 807.7 L1309.3 809.8 L1313.3 812.1 L1317.3 814.6 L1321.3 817.2 L1325.3 820.0 L1329.3 823.1 L1333.3 826.4 L1337.3 830.0 L1341.3 833.8 L1345.3 837.9 L1349.3 842.2 L1353.3 847.0 L1357.3 852.0 L1361.3 857.3 L1365.3 862.9 L1369.3 868.7 L1373.3 874.8 L1377.3 881.1 L1381.3 887.6 L1385.3 894.2 L1389.3 900.9 L1393.3 907.7 L1397.3 914.5 L1401.3 921.3 L1405.3 928.1 L1409.3 934.8 L1413.3 941.4 L1417.3 948.0 L1421.3 954.5 L1425.3 961.0 L1429.3 967.3 L1433.3 973.5 L1437.3 979.6 L1441.3 985.6 L1445.3 991.4 L1449.3 997.0 L1453.3 1002.4 L1457.3 1007.6 L1461.3 1012.5 L1465.3 1017.3 L1469.3 1021.8 L1473.3 1026.1 L1477.3 1030.1 L1481.3 1033.9 L1485.3 1037.5 L1489.3 1040.8 L1493.3 1043.8 L1497.3 1046.7 L1501.3 1049.3 L1505.3 1051.8 L1509.3 1054.0 L1513.3 1056.1 L1517.3 1058.0 L1521.3 1059.8 L1525.3 1061.4 L1529.3 1062.9 L1533.3 1064.3 L1537.3 1065.6 L1541.3 1066.9 L1545.3 1068.1 L1549.3 1069.3 L1553.3 1070.5 L1557.3 1071.7 L1561.3 1072.8 L1565.3 1074.0 L1569.3 1075.2 L1573.3 1076.4 L1577.3 1077.6 L1581.3 1078.8 L1585.3 1080.1 L1589.3 1081.4 L1593.3 1082.7 L1597.3 1084.0 L1601.3 1085.3 L1605.3 1086.7 L1609.3 1088.0 L1613.3 1089.3 L1617.3 1090.5 L1621.3 1091.8 L1625.3 1093.0 L1629.3 1094.2 L1633.3 1095.3 L1637.3 1096.4 L1641.3 1097.5 L1645.3 1098.5 L1649.3 1099.5 L1653.3 1100.5 L1657.3 1101.4 L1661.3 1102.3 L1665.3 1103.2 L1669.3 1104.0 L1673.3 1104.7 L1677.3 1105.4 L1681.3 1106.1 L1685.3 1106.7 L1689.3 1107.3 L1693.3 1107.8 L1697.3 1108.3 L1701.3 1108.8 L1705.3 1109.2 L1709.3 1109.5 L1713.3 1109.9 L1717.3 1110.1 L1721.3 1110.4 L1725.3 1110.6 L1729.3 1110.8 L1733.3 1111.0 L1737.3 1111.1 L1741.3 1111.2 L1745.3 1111.3 L1749.3 1111.4 L1753.3 1111.5 L1755.6 1111.6" stroke="#d62728" stroke-dasharray="23.1 10"/>
</g>
<g stroke="#000" stroke-width="3.33">
<line x1="445.5" y1="1132.0" x2="445.5" y2="1147.2"/>
<line x1="818.7" y1="1132.0" x2="818.7" y2="1147.2"/>
<line x1="1191.9" y1="1132.0" x2="1191.9" y2="1147.2"/>
<line x1="1565.1" y1="1132.0" x2="1565.1" y2="1147.2"/>
<line x1="1938.3" y1="1132.0" x2="1938.3" y2="1147.2"/>
<line x1="2311.6" y1="1132.0" x2="2311.6" y2="1147.2"/>
<line x1="274.3" y1="1115.5" x2="289.5" y2="1115.5"/>
<line x1="274.3" y1="960.4" x2="289.5" y2="960.4"/>
<line x1="274.3" y1="805.3" x2="289.5" y2="805.3"/>
</g>
<text x="259.4" y="1134.3" font-size="50" text-anchor="end" font-family="DejaVu Sans, Liberation Sans, sans-serif">0.00</text>
<text x="259.4" y="979.2" font-size="50" text-anchor="end" font-family="DejaVu Sans, Liberation Sans, sans-serif">0.25</text>
<text x="259.4" y="824.1" font-size="50" text-anchor="end" font-family="DejaVu Sans, Liberation Sans, sans-serif">0.50</text>
<rect x="289.5" y="740.0" width="2036.0" height="392.0" fill="none" stroke="#000" stroke-width="3.33" stroke-linejoin="miter"/>
<text x="1306.5" y="714.9" font-size="60" text-anchor="middle" font-family="DejaVu Sans, Liberation Sans, sans-serif">Dim. 2</text>
<rect x="1902.7" y="756.7" width="405.3" height="207.5" rx="6.67" ry="6.67" fill="#fff" fill-opacity="0.8" stroke="#cccccc" stroke-opacity="0.8" stroke-width="4.17"/>
<line x1="1916" y1="783.3" x2="1982.7" y2="783.3" stroke="#1f77b4" stroke-opacity="0.5" stroke-width="6.25" stroke-linecap="square"/>
<text x="2009.4" y="795.5" font-size="33.33" letter-spacing="0.11" font-family="DejaVu Sans, Liberation Sans, sans-serif">Reference</text>
<line x1="1916" y1="832.9" x2="1982.7" y2="832.9" stroke="#ff7f0e" stroke-opacity="0.5" stroke-width="6.25" stroke-dasharray="23.1 10"/>
<text x="2009.4" y="845.1" font-size="33.33" letter-spacing="0.11" font-family="DejaVu Sans, Liberation Sans, sans-serif">Original</text>
<line x1="1916" y1="882.6" x2="1982.7" y2="882.6" stroke="#2ca02c" stroke-opacity="0.5" stroke-width="6.25" stroke-dasharray="23.1 10"/>
<text x="2009.4" y="894.8" font-size="33.33" letter-spacing="0.11" font-family="DejaVu Sans, Liberation Sans, sans-serif">Gaussian Blur</text>
<line x1="1916" y1="932.2" x2="1982.7" y2="932.2" stroke="#d62728" stroke-opacity="0.5" stroke-width="6.25" stroke-dasharray="23.1 10"/>
<text x="2009.4" y="944.5" font-size="33.33" letter-spacing="0.11" font-family="DejaVu Sans, Liberation Sans, sans-serif">Elastic Transform</text>
</g>
<g id="ax3">
<clipPath id="clip3"><rect x="289.5" y="1271.5" width="2036.0" height="392.0"/></clipPath>
<g clip-path="url(#clip3)" fill="none" stroke-width="6.25" stroke-opacity="0.5" stroke-linejoin="round">
<path d="M600.1 1643.8 L604.1 1643.6 L608.1 1643.3 L612.1 1643.1 L616.1 1642.9 L620.1 1642.7 L624.1 1642.4 L628.1 1642.2 L632.1 1642.0 L636.1 1641.8 L640.1 1641.6 L644.1 1641.4 L648.1 1641.2 L652.1 1641.0 L656.1 1640.8 L660.1 1640.6 L664.1 1640.4 L668.1 1640.2 L672.1 1640.0 L676.1 1639.8 L680.1 1639.6 L684.1 1639.4 L688.1 1639.2 L692.1 1639.0 L696.1 1638.8 L700.1 1638.5 L704.1 1638.3 L708.1 1638.0 L712.1 1637.7 L716.1 1637.5 L720.1 1637.2 L724.1 1636.9 L728.1 1636.5 L732.1 1636.2 L736.1 1635.8 L740.1 1635.4 L744.1 1635.0 L748.1 1634.6 L752.1 1634.1 L756.1 1633.6 L760.1 1633.1 L764.1 1632.6 L768.1 1632.0 L772.1 1631.4 L776.1 1630.8 L780.1 1630.2 L784.1 1629.5 L788.1 1628.8 L792.1 1628.1 L796.1 1627.3 L800.1 1626.5 L804.1 1625.7 L808.1 1624.8 L812.1 1623.9 L816.1 1623.0 L820.1 1622.0 L824.1 1621.0 L828.1 1619.9 L832.1 1618.7 L836.1 1617.6 L840.1 1616.4 L844.1 1615.1 L848.1 1613.8 L852.1 1612.4 L856.1 1611.0 L860.1 1609.5 L864.1 1607.9 L868.1 1606.3 L872.1 1604.6 L876.1 1602.8 L880.1 1601.0 L884.1 1599.1 L888.1 1597.1 L892.1 1595.0 L896.1 1592.9 L900.1 1590.6 L904.1 1588.3 L908.1 1586.0 L912.1 1583.5 L916.1 1581.0 L920.1 1578.4 L924.1 1575.7 L928.1 1572.9 L932.1 1570.1 L936.1 1567.3 L940.1 1564.4 L944.1 1561.4 L948.1 1558.4 L952.1 1555.3 L956.1 1552.1 L960.1 1548.9 L964.1 1545.6 L968.1 1542.3 L972.1 1538.9 L976.1 1535.5 L980.1 1532.0 L984.1 1528.5 L988.1 1524.9 L992.1 1521.3 L996.1 1517.6 L1000.1 1513.8 L1004.1 1509.9 L1008.1 1505.9 L1012.1 1501.7 L1016.1 1497.5 L1020.1 1493.3 L1024.1 1488.9 L1028.1 1484.5 L1032.1 1480.1 L1036.1 1475.6 L1040.1 1471.1 L1044.1 1466.7 L1048.1 1462.2 L1052.1 1457.7 L1056.1 1453.3 L1060.1 1448.9 L1064.1 1444.6 L1068.1 1440.3 L1072.1 1436.2 L1076.1 1432.2 L1080.1 1428.3 L1084.1 1424.6 L1088.1 1421.0 L1092.1 1417.6 L1096.1 1414.4 L1100.1 1411.5 L1104.1 1408.7 L1108.1 1406.1 L1112.1 1403.7 L1116.1 1401.5 L1120.1 1399.5 L1124.1 1397.7 L1128.1 1396.1 L1132.1 1394.6 L1136.1 1393.2 L1140.1 1392.0 L1144.1 1390.9 L1148.1 1389.9 L1152.1 1389.0 L1156.1 1388.2 L1160.1 1387.4 L1164.1 1386.7 L1168.1 1386.1 L1172.1 1385.5 L1176.1 1384.9 L1180.1 1384.4 L1184.1 1384.0 L1188.1 1383.5 L1192.1 1383.1 L1196.1 1382.8 L1200.1 1382.5 L1204.1 1382.2 L1208.1 1382.0 L1212.1 1381.9 L1216.1 1381.9 L1220.1 1381.9 L1224.1 1382.0 L1228.1 1382.1 L1232.1 1382.4 L1236.1 1382.7 L1240.1 1383.1 L1244.1 1383.7 L1248.1 1384.2 L1252.1 1384.9 L1256.1 1385.7 L1260.1 1386.6 L1264.1 1387.5 L1268.1 1388.6 L1272.1 1389.7 L1276.1 1390.9 L1280.1 1392.2 L1284.1 1393.6 L1288.1 1395.0 L1292.1 1396.5 L1296.1 1398.1 L1300.1 1399.8 L1304.1 1401.6 L1308.1 1403.4 L1312.1 1405.4 L1316.1 1407.4 L1320.1 1409.5 L1324.1 1411.8 L1328.1 1414.1 L1332.1 1416.6 L1336.1 1419.2 L1340.1 1421.9 L1344.1 1424.8 L1348.1 1427.7 L1352.1 1430.8 L1356.1 1434.0 L1360.1 1437.3 L1364.1 1440.7 L1368.1 1444.3 L1372.1 1447.9 L1376.1 1451.7 L1380.1 1455.6 L1384.1 1459.5 L1388.1 1463.6 L1392.1 1467.8 L1396.1 1472.0 L1400.1 1476.3 L1404.1 1480.7 L1408.1 1485.1 L1412.1 1489.5 L1416.1 1493.9 L1420.1 1498.2 L1424.1 1502.4 L1428.1 1506.6 L1432.1 1510.6 L1436.1 1514.4 L1440.1 1518.1 L1444.1 1521.7 L1448.1 1525.0 L1452.1 1528.2 L1456.1 1531.3 L1460.1 1534.2 L1464.1 1537.0 L1468.1 1539.6 L1472.1 1542.1 L1476.1 1544.5 L1480.1 1546.8 L1484.1 1549.1 L1488.1 1551.2 L1492.1 1553.4 L1496.1 1555.4 L1500.1 1557.5 L1504.1 1559.5 L1508.1 1561.5 L1512.1 1563.5 L1516.1 1565.5 L1520.1 1567.4 L1524.1 1569.4 L1528.1 1571.3 L1532.1 1573.2 L1536.1 1575.0 L1540.1 1576.9 L1544.1 1578.6 L1548.1 1580.3 L1552.1 1582.0 L1556.1 1583.6 L1560.1 1585.2 L1564.1 1586.8 L1568.1 1588.3 L1572.1 1589.7 L1576.1 1591.1 L1580.1 1592.5 L1584.1 1593.9 L1588.1 1595.2 L1592.1 1596.5 L1596.1 1597.7 L1600.1 1598.9 L1604.1 1600.1 L1608.1 1601.2 L1612.1 1602.3 L1616.1 1603.3 L1620.1 1604.3 L1624.1 1605.2 L1628.1 1606.1 L1632.1 1607.0 L1636.1 1607.8 L1640.1 1608.5 L1644.1 1609.2 L1648.1 1609.9 L1652.1 1610.5 L1656.1 1611.1 L1660.1 1611.7 L1664.1 1612.3 L1668.1 1612.9 L1672.1 1613.5 L1676.1 1614.0 L1680.1 1614.6 L1684.1 1615.2 L1688.1 1615.8 L1692.1 1616.4 L1696.1 1617.1 L1700.1 1617.7 L1704.1 1618.4 L1708.1 1619.1 L1712.1 1619.8 L1716.1 1620.6 L1720.1 1621.3 L1724.1 1622.1 L1728.1 1622.9 L1732.1 1623.6 L1736.1 1624.4 L1740.1 1625.2 L1744.1 1626.0 L1748.1 1626.8 L1752.1 1627.6 L1756.1 1628.4 L1760.1 1629.2 L1764.1 1630.0 L1768.1 1630.8 L1772.1 1631.5 L1776.1 1632.3 L1780.1 1633.0 L1784.1 1633.7 L1788.1 1634.4 L1792.1 1635.0 L1796.1 1635.7 L1800.1 1636.2 L1804.1 1636.8 L1808.1 1637.3 L1812.1 1637.8 L1816.1 1638.3 L1820.1 1638.7 L1824.1 1639.1 L1828.1 1639.5 L1832.1 1639.9 L1836.1 1640.2 L1840.1 1640.6 L1844.1 1640.9 L1848.1 1641.1 L1852.1 1641.4 L1856.1 1641.6 L1860.1 1641.9 L1864.1 1642.1 L1868.1 1642.3 L1872.1 1642.5 L1876.1 1642.6 L1880.1 1642.8 L1884.1 1642.9 L1888.1 1643.1 L1892.1 1643.2 L1896.1 1643.3 L1900.1 1643.5 L1904.1 1643.6 L1908.1 1643.7 L1912.1 1643.8 L1916.1 1643.9 L1920.1 1644.0 L1924.1 1644.1 L1928.1 1644.1 L1928.8 1644.2" stroke="#1f77b4" stroke-linecap="square"/>
<path d="M592.3 1644.0 L596.3 1643.8 L600.3 1643.6 L604.3 1643.4 L608.3 1643.2 L612.3 1643.0 L616.3 1642.8 L620.3 1642.5 L624.3 1642.3 L628.3 1642.1 L632.3 1641.9 L636.3 1641.7 L640.3 1641.5 L644.3 1641.4 L648.3 1641.2 L652.3 1641.0 L656.3 1640.8 L660.3 1640.6 L664.3 1640.4 L668.3 1640.2 L672.3 1640.0 L676.3 1639.8 L680.3 1639.6 L684.3 1639.5 L688.3 1639.3 L692.3 1639.1 L696.3 1638.8 L700.3 1638.6 L704.3 1638.4 L708.3 1638.1 L712.3 1637.8 L716.3 1637.5 L720.3 1637.2 L724.3 1636.8 L728.3 1636.4 L732.3 1635.9 L736.3 1635.4 L740.3 1634.8 L744.3 1634.2 L748.3 1633.5 L752.3 1632.8 L756.3 1632.0 L760.3 1631.2 L764.3 1630.3 L768.3 1629.3 L772.3 1628.3 L776.3 1627.2 L780.3 1626.1 L784.3 1624.9 L788.3 1623.7 L792.3 1622.4 L796.3 1621.0 L800.3 1619.7 L804.3 1618.3 L808.3 1616.9 L812.3 1615.5 L816.3 1614.1 L820.3 1612.7 L824.3 1611.2 L828.3 1609.8 L832.3 1608.4 L836.3 1607.0 L840.3 1605.6 L844.3 1604.2 L848.3 1602.8 L852.3 1601.4 L856.3 1600.1 L860.3 1598.7 L864.3 1597.3 L868.3 1596.0 L872.3 1594.6 L876.3 1593.3 L880.3 1591.9 L884.3 1590.5 L888.3 1589.1 L892.3 1587.6 L896.3 1586.1 L900.3 1584.5 L904.3 1582.8 L908.3 1581.0 L912.3 1579.2 L916.3 1577.2 L920.3 1575.1 L924.3 1572.9 L928.3 1570.6 L932.3 1568.1 L936.3 1565.5 L940.3 1562.8 L944.3 1559.9 L948.3 1556.9 L952.3 1553.8 L956.3 1550.5 L960.3 1547.2 L964.3 1543.7 L968.3 1540.1 L972.3 1536.5 L976.3 1532.8 L980.3 1529.0 L984.3 1525.2 L988.3 1521.3 L992.3 1517.4 L996.3 1513.4 L1000.3 1509.4 L1004.3 1505.4 L1008.3 1501.4 L1012.3 1497.4 L1016.3 1493.4 L1020.3 1489.4 L1024.3 1485.5 L1028.3 1481.7 L1032.3 1478.0 L1036.3 1474.4 L1040.3 1470.9 L1044.3 1467.6 L1048.3 1464.4 L1052.3 1461.4 L1056.3 1458.5 L1060.3 1455.8 L1064.3 1453.1 L1068.3 1450.6 L1072.3 1448.2 L1076.3 1446.0 L1080.3 1443.8 L1084.3 1441.7 L1088.3 1439.8 L1092.3 1437.9 L1096.3 1436.2 L1100.3 1434.6 L1104.3 1433.0 L1108.3 1431.6 L1112.3 1430.2 L1116.3 1428.9 L1120.3 1427.6 L1124.3 1426.3 L1128.3 1425.1 L1132.3 1423.8 L1136.3 1422.6 L1140.3 1421.3 L1144.3 1420.0 L1148.3 1418.7 L1152.3 1417.4 L1156.3 1416.0 L1160.3 1414.7 L1164.3 1413.3 L1168.3 1411.9 L1172.3 1410.4 L1176.3 1409.0 L1180.3 1407.6 L1184.3 1406.1 L1188.3 1404.7 L1192.3 1403.3 L1196.3 1401.9 L1200.3 1400.5 L1204.3 1399.1 L1208.3 1397.9 L1212.3 1396.6 L1216.3 1395.5 L1220.3 1394.4 L1224.3 1393.4 L1228.3 1392.6 L1232.3 1391.8 L1236.3 1391.2 L1240.3 1390.7 L1244.3 1390.4 L1248.3 1390.2 L1252.3 1390.1 L1256.3 1390.2 L1260.3 1390.4 L1264.3 1390.7 L1268.3 1391.2 L1272.3 1391.9 L1276.3 1392.6 L1280.3 1393.6 L1284.3 1394.6 L1288.3 1395.9 L1292.3 1397.2 L1296.3 1398.7 L1300.3 1400.4 L1304.3 1402.1 L1308.3 1404.1 L1312.3 1406.1 L1316.3 1408.3 L1320.3 1410.6 L1324.3 1412.9 L1328.3 1415.4 L1332.3 1418.0 L1336.3 1420.6 L1340.3 1423.3 L1344.3 1426.0 L1348.3 1428.8 L1352.3 1431.5 L1356.3 1434.3 L1360.3 1437.0 L1364.3 1439.7 L1368.3 1442.5 L1372.3 1445.2 L1376.3 1448.0 L1380.3 1450.7 L1384.3 1453.5 L1388.3 1456.2 L1392.3 1458.8 L1396.3 1461.5 L1400.3 1464.1 L1404.3 1466.6 L1408.3 1469.1 L1412.3 1471.6 L1416.3 1474.1 L1420.3 1476.7 L1424.3 1479.3 L1428.3 1482.0 L1432.3 1484.8 L1436.3 1487.7 L1440.3 1490.7 L1444.3 1493.8 L1448.3 1496.9 L1452.3 1500.2 L1456.3 1503.5 L1460.3 1506.8 L1464.3 1510.2 L1468.3 1513.6 L1472.3 1517.0 L1476.3 1520.4 L1480.3 1523.8 L1484.3 1527.2 L1488.3 1530.5 L1492.3 1533.8 L1496.3 1537.0 L1500.3 1540.2 L1504.3 1543.3 L1508.3 1546.3 L1512.3 1549.3 L1516.3 1552.1 L1520.3 1554.9 L1524.3 1557.7 L1528.3 1560.3 L1532.3 1562.9 L1536.3 1565.4 L1540.3 1567.9 L1544.3 1570.3 L1548.3 1572.6 L1552.3 1574.8 L1556.3 1576.9 L1560.3 1579.0 L1564.3 1581.0 L1568.3 1583.0 L1572.3 1584.9 L1576.3 1586.7 L1580.3 1588.4 L1584.3 1590.1 L1588.3 1591.7 L1592.3 1593.2 L1596.3 1594.6 L1600.3 1596.0 L1604.3 1597.3 L1608.3 1598.6 L1612.3 1599.8 L1616.3 1600.9 L1620.3 1602.0 L1624.3 1603.1 L1628.3 1604.1 L1632.3 1605.1 L1636.3 1606.1 L1640.3 1607.1 L1644.3 1608.1 L1648.3 1609.1 L1652.3 1610.1 L1656.3 1611.0 L1660.3 1612.0 L1664.3 1613.0 L1668.3 1613.9 L1672.3 1614.9 L1676.3 1615.9 L1680.3 1616.8 L1684.3 1617.7 L1688.3 1618.7 L1692.3 1619.6 L1696.3 1620.5 L1700.3 1621.4 L1704.3 1622.4 L1708.3 1623.3 L1712.3 1624.2 L1716.3 1625.1 L1720.3 1626.1 L1724.3 1627.0 L1728.3 1627.9 L1732.3 1628.8 L1736.3 1629.7 L1740.3 1630.5 L1744.3 1631.4 L1748.3 1632.2 L1752.3 1632.9 L1756.3 1633.6 L1760.3 1634.3 L1764.3 1634.9 L1768.3 1635.5 L1772.3 1636.1 L1776.3 1636.6 L1780.3 1637.1 L1784.3 1637.6 L1788.3 1638.0 L1792.3 1638.5 L1796.3 1638.9 L1800.3 1639.3 L1804.3 1639.7 L1808.3 1640.0 L1812.3 1640.4 L1816.3 1640.7 L1820.3 1641.1 L1824.3 1641.4 L1828.3 1641.7 L1832.3 1641.9 L1836.3 1642.2 L1840.3 1642.4 L1844.3 1642.7 L1848.3 1642.9 L1852.3 1643.1 L1856.3 1643.3 L1860.3 1643.5 L1864.3 1643.7 L1868.3 1643.9 L1872.3 1644.0 L1874.0 1644.1" stroke="#ff7f0e" stroke-dasharray="23.1 10"/>
<path d="M711.6 1644.1 L715.6 1644.0 L719.6 1643.8 L723.6 1643.7 L727.6 1643.5 L731.6 1643.3 L735.6 1643.1 L739.6 1642.9 L743.6 1642.7 L747.6 1642.4 L751.6 1642.2 L755.6 1641.9 L759.6 1641.6 L763.6 1641.4 L767.6 1641.1 L771.6 1640.8 L775.6 1640.4 L779.6 1640.1 L783.6 1639.8 L787.6 1639.4 L791.6 1639.1 L795.6 1638.7 L799.6 1638.3 L803.6 1637.9 L807.6 1637.5 L811.6 1637.0 L815.6 1636.6 L819.6 1636.1 L823.6 1635.5 L827.6 1635.0 L831.6 1634.4 L835.6 1633.7 L839.6 1633.0 L843.6 1632.3 L847.6 1631.5 L851.6 1630.6 L855.6 1629.6 L859.6 1628.6 L863.6 1627.5 L867.6 1626.2 L871.6 1624.9 L875.6 1623.5 L879.6 1621.9 L883.6 1620.3 L887.6 1618.5 L891.6 1616.7 L895.6 1614.7 L899.6 1612.7 L903.6 1610.6 L907.6 1608.4 L911.6 1606.1 L915.6 1603.8 L919.6 1601.4 L923.6 1599.0 L927.6 1596.6 L931.6 1594.1 L935.6 1591.6 L939.6 1589.1 L943.6 1586.6 L947.6 1584.1 L951.6 1581.5 L955.6 1579.0 L959.6 1576.4 L963.6 1573.9 L967.6 1571.3 L971.6 1568.6 L975.6 1565.9 L979.6 1563.1 L983.6 1560.1 L987.6 1557.0 L991.6 1553.7 L995.6 1550.2 L999.6 1546.4 L1003.6 1542.3 L1007.6 1537.9 L1011.6 1533.2 L1015.6 1528.2 L1019.6 1523.0 L1023.6 1517.5 L1027.6 1511.8 L1031.6 1505.9 L1035.6 1499.8 L1039.6 1493.5 L1043.6 1487.0 L1047.6 1480.3 L1051.6 1473.5 L1055.6 1466.6 L1059.6 1459.5 L1063.6 1452.5 L1067.6 1445.4 L1071.6 1438.3 L1075.6 1431.3 L1079.6 1424.4 L1083.6 1417.6 L1087.6 1410.9 L1091.6 1404.4 L1095.6 1398.1 L1099.6 1392.0 L1103.6 1386.1 L1107.6 1380.4 L1111.6 1375.0 L1115.6 1369.7 L1119.6 1364.8 L1123.6 1360.1 L1127.6 1355.5 L1131.6 1351.2 L1135.6 1347.1 L1139.6 1343.1 L1143.6 1339.3 L1147.6 1335.6 L1151.6 1332.1 L1155.6 1328.6 L1159.6 1325.3 L1163.6 1322.1 L1167.6 1318.9 L1171.6 1315.8 L1175.6 1312.9 L1179.6 1310.0 L1183.6 1307.2 L1187.6 1304.5 L1191.6 1301.9 L1195.6 1299.4 L1199.6 1297.2 L1203.6 1295.1 L1207.6 1293.3 L1211.6 1291.8 L1215.6 1290.6 L1219.6 1289.9 L1223.6 1289.5 L1227.6 1289.6 L1231.6 1290.3 L1235.6 1291.5 L1239.6 1293.2 L1243.6 1295.5 L1247.6 1298.3 L1251.6 1301.5 L1255.6 1305.2 L1259.6 1309.3 L1263.6 1313.6 L1267.6 1318.2 L1271.6 1322.9 L1275.6 1327.8 L1279.6 1332.7 L1283.6 1337.7 L1287.6 1342.6 L1291.6 1347.5 L1295.6 1352.3 L1299.6 1357.0 L1303.6 1361.6 L1307.6 1366.1 L1311.6 1370.4 L1315.6 1374.5 L1319.6 1378.6 L1323.6 1382.5 L1327.6 1386.4 L1331.6 1390.1 L1335.6 1393.8 L1339.6 1397.4 L1343.6 1400.9 L1347.6 1404.5 L1351.6 1408.0 L1355.6 1411.6 L1359.6 1415.3 L1363.6 1419.0 L1367.6 1422.9 L1371.6 1426.8 L1375.6 1431.0 L1379.6 1435.3 L1383.6 1439.8 L1387.6 1444.6 L1391.6 1449.5 L1395.6 1454.5 L1399.6 1459.8 L1403.6 1465.3 L1407.6 1470.9 L1411.6 1476.6 L1415.6 1482.4 L1419.6 1488.3 L1423.6 1494.1 L1427.6 1499.9 L1431.6 1505.6 L1435.6 1511.2 L1439.6 1516.7 L1443.6 1522.0 L1447.6 1527.2 L1451.6 1532.1 L1455.6 1536.8 L1459.6 1541.3 L1463.6 1545.6 L1467.6 1549.7 L1471.6 1553.6 L1475.6 1557.2 L1479.6 1560.7 L1483.6 1564.0 L1487.6 1567.0 L1491.6 1570.0 L1495.6 1572.7 L1499.6 1575.4 L1503.6 1577.9 L1507.6 1580.3 L1511.6 1582.6 L1515.6 1584.8 L1519.6 1587.0 L1523.6 1589.1 L1527.6 1591.1 L1531.6 1593.1 L1535.6 1595.1 L1539.6 1597.1 L1543.6 1599.1 L1547.6 1601.1 L1551.6 1603.1 L1555.6 1605.1 L1559.6 1607.1 L1563.6 1609.1 L1567.6 1611.1 L1571.6 1613.0 L1575.6 1615.0 L1579.6 1616.9 L1583.6 1618.8 L1587.6 1620.6 L1591.6 1622.3 L1595.6 1624.0 L1599.6 1625.6 L1603.6 1627.2 L1607.6 1628.6 L1611.6 1629.9 L1615.6 1631.2 L1619.6 1632.3 L1623.6 1633.4 L1627.6 1634.3 L1631.6 1635.2 L1635.6 1636.0 L1639.6 1636.8 L1643.6 1637.4 L1647.6 1638.0 L1651.6 1638.6 L1655.6 1639.1 L1659.6 1639.5 L1663.6 1639.9 L1667.6 1640.2 L1671.6 1640.5 L1675.6 1640.8 L1679.6 1641.1 L1683.6 1641.3 L1687.6 1641.6 L1691.6 1641.8 L1695.6 1642.0 L1699.4 1642.2" stroke="#2ca02c" stroke-dasharray="23.1 10"/>
<path d="M745.2 1642.6 L749.2 1642.3 L753.2 1642.1 L757.2 1641.8 L761.2 1641.5 L765.2 1641.2 L769.2 1640.9 L773.2 1640.6 L777.2 1640.3 L781.2 1639.9 L785.2 1639.5 L789.2 1639.1 L793.2 1638.7 L797.2 1638.3 L801.2 1637.8 L805.2 1637.3 L809.2 1636.8 L813.2 1636.2 L817.2 1635.6 L821.2 1635.0 L825.2 1634.3 L829.2 1633.6 L833.2 1632.8 L837.2 1632.0 L841.2 1631.2 L845.2 1630.3 L849.2 1629.3 L853.2 1628.3 L857.2 1627.2 L861.2 1626.1 L865.2 1624.9 L869.2 1623.7 L873.2 1622.4 L877.2 1621.1 L881.2 1619.7 L885.2 1618.3 L889.2 1616.8 L893.2 1615.2 L897.2 1613.6 L901.2 1611.9 L905.2 1610.1 L909.2 1608.3 L913.2 1606.3 L917.2 1604.4 L921.2 1602.3 L925.2 1600.2 L929.2 1598.1 L933.2 1595.9 L937.2 1593.6 L941.2 1591.3 L945.2 1588.9 L949.2 1586.5 L953.2 1584.1 L957.2 1581.6 L961.2 1579.1 L965.2 1576.5 L969.2 1573.9 L973.2 1571.3 L977.2 1568.6 L981.2 1565.9 L985.2 1563.1 L989.2 1560.3 L993.2 1557.4 L997.2 1554.5 L1001.2 1551.3 L1005.2 1547.9 L1009.2 1544.2 L1013.2 1540.3 L1017.2 1536.2 L1021.2 1531.8 L1025.2 1527.2 L1029.2 1522.5 L1033.2 1517.5 L1037.2 1512.3 L1041.2 1507.0 L1045.2 1501.5 L1049.2 1495.8 L1053.2 1489.9 L1057.2 1483.9 L1061.2 1477.7 L1065.2 1471.3 L1069.2 1464.7 L1073.2 1457.9 L1077.2 1451.0 L1081.2 1443.9 L1085.2 1436.6 L1089.2 1429.2 L1093.2 1421.8 L1097.2 1414.3 L1101.2 1406.7 L1105.2 1399.1 L1109.2 1391.5 L1113.2 1384.1 L1117.2 1376.7 L1121.2 1369.5 L1125.2 1362.5 L1129.2 1355.8 L1133.2 1349.3 L1137.2 1343.1 L1141.2 1337.3 L1145.2 1331.9 L1149.2 1326.9 L1153.2 1322.3 L1157.2 1318.2 L1161.2 1314.4 L1165.2 1311.1 L1169.2 1308.3 L1173.2 1305.9 L1177.2 1303.8 L1181.2 1302.2 L1185.2 1300.9 L1189.2 1299.9 L1193.2 1299.2 L1197.2 1298.8 L1201.2 1298.7 L1205.2 1298.8 L1209.2 1299.2 L1213.2 1299.9 L1217.2 1300.8 L1221.2 1301.9 L1225.2 1303.2 L1229.2 1304.8 L1233.2 1306.5 L1237.2 1308.5 L1241.2 1310.7 L1245.2 1313.1 L1249.2 1315.7 L1253.2 1318.6 L1257.2 1321.6 L1261.2 1324.9 L1265.2 1328.4 L1269.2 1332.1 L1273.2 1335.9 L1277.2 1340.0 L1281.2 1344.1 L1285.2 1348.4 L1289.2 1352.8 L1293.2 1357.3 L1297.2 1361.8 L1301.2 1366.3 L1305.2 1370.9 L1309.2 1375.4 L1313.2 1380.0 L1317.2 1384.5 L1321.2 1389.0 L1325.2 1393.5 L1329.2 1397.9 L1333.2 1402.3 L1337.2 1406.7 L1341.2 1411.0 L1345.2 1415.3 L1349.2 1419.5 L1353.2 1423.7 L1357.2 1427.8 L1361.2 1431.9 L1365.2 1436.0 L1369.2 1440.0 L1373.2 1444.1 L1377.2 1448.1 L1381.2 1452.1 L1385.2 1456.2 L1389.2 1460.2 L1393.2 1464.3 L1397.2 1468.5 L1401.2 1472.7 L1405.2 1476.9 L1409.2 1481.2 L1413.2 1485.5 L1417.2 1489.8 L1421.2 1494.1 L1425.2 1498.4 L1429.2 1502.7 L1433.2 1507.0 L1437.2 1511.3 L1441.2 1515.5 L1445.2 1519.7 L1449.2 1523.9 L1453.2 1527.9 L1457.2 1531.9 L1461.2 1535.9 L1465.2 1539.7 L1469.2 1543.4 L1473.2 1547.0 L1477.2 1550.4 L1481.2 1553.7 L1485.2 1556.8 L1489.2 1559.8 L1493.2 1562.6 L1497.2 1565.2 L1501.2 1567.6 L1505.2 1569.9 L1509.2 1572.1 L1513.2 1574.1 L1517.2 1575.9 L1521.2 1577.6 L1525.2 1579.2 L1529.2 1580.7 L1533.2 1582.1 L1537.2 1583.4 L1541.2 1584.7 L1545.2 1585.9 L1549.2 1587.1 L1553.2 1588.3 L1557.2 1589.5 L1561.2 1590.6 L1565.2 1591.8 L1569.2 1593.0 L1573.2 1594.2 L1577.2 1595.4 L1581.2 1596.7 L1585.2 1598.1 L1589.2 1599.5 L1593.2 1601.0 L1597.2 1602.5 L1601.2 1604.1 L1605.2 1605.7 L1609.2 1607.4 L1613.2 1609.1 L1617.2 1610.8 L1621.2 1612.5 L1625.2 1614.2 L1629.2 1615.9 L1633.2 1617.6 L1637.2 1619.2 L1641.2 1620.7 L1645.2 1622.2 L1649.2 1623.6 L1653.2 1624.9 L1657.2 1626.2 L1661.2 1627.3 L1665.2 1628.5 L1669.2 1629.5 L1673.2 1630.5 L1677.2 1631.4 L1681.2 1632.2 L1685.2 1632.9 L1689.2 1633.7 L1693.2 1634.3 L1697.2 1634.9 L1701.2 1635.5 L1705.2 1636.1 L1709.2 1636.6 L1713.2 1637.1 L1717.2 1637.6 L1721.2 1638.1 L1725.2 1638.6 L1729.2 1639.0 L1733.2 1639.5 L1737.2 1639.9 L1741.2 1640.3 L1745.2 1640.7 L1749.2 1641.1 L1753.2 1641.4 L1757.2 1641.8 L1761.2 1642.1 L1765.2 1642.4 L1769.2 1642.7 L1773.2 1643.0 L1777.2 1643.2 L1781.2 1643.5 L1785.2 1643.7 L1789.2 1643.9 L1793.2 1644.1 L1797.2 1644.2 L1801.2 1644.4 L1805.2 1644.5 L1809.2 1644.6 L1813.2 1644.7 L1817.2 1644.8 L1821.2 1644.9 L1825.2 1644.9 L1829.2 1645.0 L1833.2 1645.1 L1837.2 1645.1 L1841.2 1645.1 L1843.0 1645.2" stroke="#d62728" stroke-dasharray="23.1 10"/>
</g>
<g stroke="#000" stroke-width="3.33">
<line x1="445.5" y1="1663.5" x2="445.5" y2="1678.7"/>
<line x1="818.7" y1="1663.5" x2="818.7" y2="1678.7"/>
<line x1="1191.9" y1="1663.5" x2="1191.9" y2="1678.7"/>
<line x1="1565.1" y1="1663.5" x2="1565.1" y2="1678.7"/>
<line x1="1938.3" y1="1663.5" x2="1938.3" y2="1678.7"/>
<line x1="2311.6" y1="1663.5" x2="2311.6" y2="1678.7"/>
<line x1="274.3" y1="1646.6" x2="289.5" y2="1646.6"/>
<line x1="274.3" y1="1505.4" x2="289.5" y2="1505.4"/>
<line x1="274.3" y1="1364.2" x2="289.5" y2="1364.2"/>
</g>
<text x="259.4" y="1665.4" font-size="50" text-anchor="end" font-family="DejaVu Sans, Liberation Sans, sans-serif">0.0</text>
<text x="259.4" y="1524.2" font-size="50" text-anchor="end" font-family="DejaVu Sans, Liberation Sans, sans-serif">0.2</text>
<text x="259.4" y="1383.0" font-size="50" text-anchor="end" font-family="DejaVu Sans, Liberation Sans, sans-serif">0.4</text>
<rect x="289.5" y="1271.5" width="2036.0" height="392.0" fill="none" stroke="#000" stroke-width="3.33" stroke-linejoin="miter"/>
<text x="1306.5" y="1246.4" font-size="60" text-anchor="middle" font-family="DejaVu Sans, Liberation Sans, sans-serif">Dim. 3</text>
<rect x="1902.7" y="1288.2" width="405.3" height="207.5" rx="6.67" ry="6.67" fill="#fff" fill-opacity="0.8" stroke="#cccccc" stroke-opacity="0.8" stroke-width="4.17"/>
<line x1="1916" y1="1314.8" x2="1982.7" y2="1314.8" stroke="#1f77b4" stroke-opacity="0.5" stroke-width="6.25" stroke-linecap="square"/>
<text x="2009.4" y="1327.0" font-size="33.33" letter-spacing="0.11" font-family="DejaVu Sans, Liberation Sans, sans-serif">Reference</text>
<line x1="1916" y1="1364.5" x2="1982.7" y2="1364.5" stroke="#ff7f0e" stroke-opacity="0.5" stroke-width="6.25" stroke-dasharray="23.1 10"/>
<text x="2009.4" y="1376.7" font-size="33.33" letter-spacing="0.11" font-family="DejaVu Sans, Liberation Sans, sans-serif">Original</text>
<line x1="1916" y1="1414.1" x2="1982.7" y2="1414.1" stroke="#2ca02c" stroke-opacity="0.5" stroke-width="6.25" stroke-dasharray="23.1 10"/>
<text x="2009.4" y="1426.3" font-size="33.33" letter-spacing="0.11" font-family="DejaVu Sans, Liberation Sans, sans-serif">Gaussian Blur</text>
<line x1="1916" y1="1463.8" x2="1982.7" y2="1463.8" stroke="#d62728" stroke-opacity="0.5" stroke-width="6.25" stroke-dasharray="23.1 10"/>
<text x="2009.4" y="1476.0" font-size="33.33" letter-spacing="0.11" font-family="DejaVu Sans, Liberation Sans, sans-serif">Elastic Transform</text>
</g>
<g id="ax4">
<clipPath id="clip4"><rect x="289.5" y="1803.0" width="2036.0" height="392.0"/></clipPath>
<g clip-path="url(#clip4)" fill="none" stroke-width="6.25" stroke-opacity="0.5" stroke-linejoin="round">
<path d="M420.5 2175.3 L424.5 2175.2 L428.5 2175.1 L432.5 2175.0 L436.5 2174.9 L440.5 2174.7 L444.5 2174.6 L448.5 2174.5 L452.5 2174.4 L456.5 2174.3 L460.5 2174.2 L464.5 2174.1 L468.5 2174.0 L472.5 2173.9 L476.5 2173.9 L480.5 2173.8 L484.5 2173.7 L488.5 2173.7 L492.5 2173.6 L496.5 2173.6 L500.5 2173.5 L504.5 2173.5 L508.5 2173.5 L512.5 2173.4 L516.5 2173.4 L520.5 2173.4 L524.5 2173.4 L528.5 2173.4 L532.5 2173.4 L536.5 2173.4 L540.5 2173.4 L544.5 2173.4 L548.5 2173.5 L552.5 2173.5 L556.5 2173.5 L560.5 2173.5 L564.5 2173.5 L568.5 2173.5 L572.5 2173.4 L576.5 2173.4 L580.5 2173.3 L584.5 2173.3 L588.5 2173.2 L592.5 2173.0 L596.5 2172.9 L600.5 2172.7 L604.5 2172.4 L608.5 2172.1 L612.5 2171.8 L616.5 2171.5 L620.5 2171.0 L624.5 2170.6 L628.5 2170.1 L632.5 2169.5 L636.5 2168.9 L640.5 2168.2 L644.5 2167.5 L648.5 2166.8 L652.5 2166.0 L656.5 2165.2 L660.5 2164.3 L664.5 2163.5 L668.5 2162.6 L672.5 2161.7 L676.5 2160.8 L680.5 2159.8 L684.5 2158.9 L688.5 2157.8 L692.5 2156.8 L696.5 2155.7 L700.5 2154.6 L704.5 2153.5 L708.5 2152.3 L712.5 2151.1 L716.5 2149.8 L720.5 2148.5 L724.5 2147.2 L728.5 2145.8 L732.5 2144.4 L736.5 2142.9 L740.5 2141.4 L744.5 2139.8 L748.5 2138.2 L752.5 2136.6 L756.5 2135.0 L760.5 2133.3 L764.5 2131.6 L768.5 2129.8 L772.5 2128.0 L776.5 2126.2 L780.5 2124.3 L784.5 2122.4 L788.5 2120.4 L792.5 2118.2 L796.5 2116.0 L800.5 2113.6 L804.5 2111.1 L808.5 2108.5 L812.5 2105.7 L816.5 2102.8 L820.5 2099.9 L824.5 2096.9 L828.5 2094.0 L832.5 2091.0 L836.5 2088.0 L840.5 2085.1 L844.5 2082.2 L848.5 2079.4 L852.5 2076.7 L856.5 2074.2 L860.5 2071.7 L864.5 2069.4 L868.5 2067.2 L872.5 2065.2 L876.5 2063.3 L880.5 2061.6 L884.5 2060.1 L888.5 2058.7 L892.5 2057.6 L896.5 2056.5 L900.5 2055.7 L904.5 2055.0 L908.5 2054.5 L912.5 2054.1 L916.5 2053.9 L920.5 2053.7 L924.5 2053.7 L928.5 2053.8 L932.5 2053.9 L936.5 2054.1 L940.5 2054.4 L944.5 2054.7 L948.5 2055.0 L952.5 2055.4 L956.5 2055.7 L960.5 2056.1 L964.5 2056.5 L968.5 2056.8 L972.5 2057.1 L976.5 2057.4 L980.5 2057.6 L984.5 2057.7 L988.5 2057.7 L992.5 2057.7 L996.5 2057.5 L1000.5 2057.3 L1004.5 2056.9 L1008.5 2056.4 L1012.5 2055.8 L1016.5 2055.1 L1020.5 2054.3 L1024.5 2053.4 L1028.5 2052.3 L1032.5 2051.1 L1036.5 2049.8 L1040.5 2048.5 L1044.5 2047.0 L1048.5 2045.4 L1052.5 2043.8 L1056.5 2042.1 L1060.5 2040.3 L1064.5 2038.5 L1068.5 2036.7 L1072.5 2034.8 L1076.5 2032.9 L1080.5 2031.0 L1084.5 2029.1 L1088.5 2027.2 L1092.5 2025.2 L1096.5 2023.4 L1100.5 2021.5 L1104.5 2019.7 L1108.5 2017.9 L1112.5 2016.2 L1116.5 2014.6 L1120.5 2013.0 L1124.5 2011.4 L1128.5 2009.9 L1132.5 2008.4 L1136.5 2006.9 L1140.5 2005.5 L1144.5 2004.1 L1148.5 2002.6 L1152.5 2001.1 L1156.5 1999.6 L1160.5 1998.1 L1164.5 1996.5 L1168.5 1994.9 L1172.5 1993.2 L1176.5 1991.4 L1180.5 1989.6 L1184.5 1987.7 L1188.5 1985.7 L1192.5 1983.6 L1196.5 1981.5 L1200.5 1979.2 L1204.5 1976.8 L1208.5 1974.3 L1212.5 1971.8 L1216.5 1969.1 L1220.5 1966.3 L1224.5 1963.4 L1228.5 1960.4 L1232.5 1957.2 L1236.5 1954.0 L1240.5 1950.7 L1244.5 1947.4 L1248.5 1943.9 L1252.5 1940.4 L1256.5 1936.9 L1260.5 1933.3 L1264.5 1929.7 L1268.5 1926.1 L1272.5 1922.6 L1276.5 1919.1 L1280.5 1915.6 L1284.5 1912.2 L1288.5 1908.9 L1292.5 1905.8 L1296.5 1902.7 L1300.5 1899.8 L1304.5 1897.0 L1308.5 1894.4 L1312.5 1892.0 L1316.5 1889.8 L1320.5 1887.7 L1324.5 1885.9 L1328.5 1884.4 L1332.5 1883.0 L1336.5 1882.0 L1340.5 1881.2 L1344.5 1880.7 L1348.5 1880.5 L1352.5 1880.6 L1356.5 1881.1 L1360.5 1881.9 L1364.5 1883.1 L1368.5 1884.7 L1372.5 1886.7 L1376.5 1889.0 L1380.5 1891.6 L1384.5 1894.7 L1388.5 1898.1 L1392.5 1901.8 L1396.5 1905.9 L1400.5 1910.3 L1404.5 1915.0 L1408.5 1920.0 L1412.5 1925.3 L1416.5 1930.9 L1420.5 1936.7 L1424.5 1942.7 L1428.5 1948.9 L1432.5 1955.2 L1436.5 1961.7 L1440.5 1968.3 L1444.5 1975.0 L1448.5 1981.7 L1452.5 1988.4 L1456.5 1995.1 L1460.5 2001.7 L1464.5 2008.3 L1468.5 2014.8 L1472.5 2021.1 L1476.5 2027.4 L1480.5 2033.6 L1484.5 2039.6 L1488.5 2045.6 L1492.5 2051.4 L1496.5 2057.1 L1500.5 2062.7 L1504.5 2068.3 L1508.5 2073.8 L1512.5 2079.2 L1516.5 2084.5 L1520.5 2089.7 L1524.5 2094.9 L1528.5 2099.9 L1532.5 2104.9 L1536.5 2109.7 L1540.5 2114.4 L1544.5 2118.8 L1548.5 2123.0 L1552.5 2126.9 L1556.5 2130.6 L1560.5 2134.0 L1564.5 2137.1 L1568.5 2140.0 L1572.5 2142.8 L1576.5 2145.4 L1580.5 2147.8 L1584.5 2150.0 L1588.5 2152.2 L1592.5 2154.3 L1596.5 2156.2 L1600.5 2158.0 L1604.5 2159.8 L1608.5 2161.4 L1612.5 2162.9 L1616.5 2164.4 L1620.5 2165.7 L1624.5 2166.9 L1628.5 2168.1 L1632.5 2169.2 L1636.5 2170.3 L1638.1 2170.7" stroke="#1f77b4" stroke-linecap="square"/>
<path d="M382.3 2176.3 L386.3 2176.2 L390.3 2176.1 L394.3 2176.0 L398.3 2175.8 L402.3 2175.7 L406.3 2175.6 L410.3 2175.5 L414.3 2175.3 L418.3 2175.2 L422.3 2175.0 L426.3 2174.9 L430.3 2174.8 L434.3 2174.6 L438.3 2174.5 L442.3 2174.3 L446.3 2174.2 L450.3 2174.0 L454.3 2173.8 L458.3 2173.7 L462.3 2173.5 L466.3 2173.4 L470.3 2173.2 L474.3 2173.0 L478.3 2172.9 L482.3 2172.7 L486.3 2172.6 L490.3 2172.4 L494.3 2172.3 L498.3 2172.1 L502.3 2172.0 L506.3 2171.8 L510.3 2171.7 L514.3 2171.5 L518.3 2171.4 L522.3 2171.3 L526.3 2171.1 L530.3 2171.0 L534.3 2170.9 L538.3 2170.7 L542.3 2170.6 L546.3 2170.5 L550.3 2170.4 L554.3 2170.2 L558.3 2170.1 L562.3 2170.0 L566.3 2169.9 L570.3 2169.7 L574.3 2169.6 L578.3 2169.4 L582.3 2169.3 L586.3 2169.1 L590.3 2168.9 L594.3 2168.7 L598.3 2168.5 L602.3 2168.3 L606.3 2168.0 L610.3 2167.8 L614.3 2167.5 L618.3 2167.3 L622.3 2167.0 L626.3 2166.6 L630.3 2166.3 L634.3 2165.9 L638.3 2165.5 L642.3 2165.0 L646.3 2164.6 L650.3 2164.1 L654.3 2163.5 L658.3 2163.0 L662.3 2162.4 L666.3 2161.8 L670.3 2161.1 L674.3 2160.4 L678.3 2159.7 L682.3 2158.9 L686.3 2158.1 L690.3 2157.2 L694.3 2156.3 L698.3 2155.4 L702.3 2154.4 L706.3 2153.4 L710.3 2152.3 L714.3 2151.1 L718.3 2149.9 L722.3 2148.7 L726.3 2147.4 L730.3 2146.1 L734.3 2144.7 L738.3 2143.3 L742.3 2141.8 L746.3 2140.3 L750.3 2138.7 L754.3 2137.1 L758.3 2135.4 L762.3 2133.6 L766.3 2131.8 L770.3 2130.0 L774.3 2128.1 L778.3 2126.2 L782.3 2124.3 L786.3 2122.3 L790.3 2120.3 L794.3 2118.3 L798.3 2116.3 L802.3 2114.3 L806.3 2112.2 L810.3 2110.1 L814.3 2108.1 L818.3 2106.0 L822.3 2103.8 L826.3 2101.7 L830.3 2099.6 L834.3 2097.4 L838.3 2095.2 L842.3 2093.1 L846.3 2091.0 L850.3 2088.9 L854.3 2086.9 L858.3 2084.9 L862.3 2083.0 L866.3 2081.2 L870.3 2079.4 L874.3 2077.7 L878.3 2076.1 L882.3 2074.6 L886.3 2073.1 L890.3 2071.7 L894.3 2070.4 L898.3 2069.1 L902.3 2067.9 L906.3 2066.8 L910.3 2065.7 L914.3 2064.7 L918.3 2063.8 L922.3 2063.0 L926.3 2062.2 L930.3 2061.5 L934.3 2060.8 L938.3 2060.2 L942.3 2059.6 L946.3 2059.0 L950.3 2058.5 L954.3 2057.9 L958.3 2057.4 L962.3 2056.9 L966.3 2056.3 L970.3 2055.8 L974.3 2055.2 L978.3 2054.6 L982.3 2054.0 L986.3 2053.3 L990.3 2052.6 L994.3 2051.9 L998.3 2051.2 L1002.3 2050.4 L1006.3 2049.5 L1010.3 2048.7 L1014.3 2047.8 L1018.3 2046.8 L1022.3 2045.8 L1026.3 2044.8 L1030.3 2043.8 L1034.3 2042.7 L1038.3 2041.5 L1042.3 2040.4 L1046.3 2039.2 L1050.3 2037.9 L1054.3 2036.6 L1058.3 2035.3 L1062.3 2034.0 L1066.3 2032.6 L1070.3 2031.1 L1074.3 2029.7 L1078.3 2028.2 L1082.3 2026.7 L1086.3 2025.2 L1090.3 2023.7 L1094.3 2022.2 L1098.3 2020.7 L1102.3 2019.3 L1106.3 2017.9 L1110.3 2016.6 L1114.3 2015.3 L1118.3 2014.0 L1122.3 2012.8 L1126.3 2011.6 L1130.3 2010.4 L1134.3 2009.3 L1138.3 2008.2 L1142.3 2007.1 L1146.3 2006.0 L1150.3 2004.9 L1154.3 2003.9 L1158.3 2002.8 L1162.3 2001.7 L1166.3 2000.6 L1170.3 1999.5 L1174.3 1998.3 L1178.3 1997.0 L1182.3 1995.7 L1186.3 1994.4 L1190.3 1992.9 L1194.3 1991.4 L1198.3 1989.7 L1202.3 1988.0 L1206.3 1986.2 L1210.3 1984.2 L1214.3 1982.1 L1218.3 1979.9 L1222.3 1977.5 L1226.3 1974.9 L1230.3 1972.2 L1234.3 1969.4 L1238.3 1966.4 L1242.3 1963.2 L1246.3 1960.0 L1250.3 1956.6 L1254.3 1953.1 L1258.3 1949.5 L1262.3 1945.8 L1266.3 1942.0 L1270.3 1938.1 L1274.3 1934.2 L1278.3 1930.3 L1282.3 1926.3 L1286.3 1922.4 L1290.3 1918.6 L1294.3 1914.8 L1298.3 1911.1 L1302.3 1907.5 L1306.3 1904.1 L1310.3 1900.8 L1314.3 1897.7 L1318.3 1894.9 L1322.3 1892.2 L1326.3 1889.8 L1330.3 1887.6 L1334.3 1885.7 L1338.3 1884.1 L1342.3 1882.7 L1346.3 1881.6 L1350.3 1880.8 L1354.3 1880.3 L1358.3 1880.2 L1362.3 1880.5 L1366.3 1881.1 L1370.3 1882.1 L1374.3 1883.5 L1378.3 1885.3 L1382.3 1887.5 L1386.3 1890.1 L1390.3 1893.1 L1394.3 1896.4 L1398.3 1900.2 L1402.3 1904.3 L1406.3 1908.7 L1410.3 1913.5 L1414.3 1918.6 L1418.3 1924.1 L1422.3 1929.9 L1426.3 1935.9 L1430.3 1942.1 L1434.3 1948.5 L1438.3 1955.1 L1442.3 1961.7 L1446.3 1968.5 L1450.3 1975.4 L1454.3 1982.2 L1458.3 1989.1 L1462.3 1996.0 L1466.3 2002.8 L1470.3 2009.6 L1474.3 2016.3 L1478.3 2022.9 L1482.3 2029.4 L1486.3 2035.8 L1490.3 2042.1 L1494.3 2048.2 L1498.3 2054.3 L1502.3 2060.2 L1506.3 2066.0 L1510.3 2071.7 L1514.3 2077.3 L1518.3 2082.7 L1522.3 2088.1 L1526.3 2093.3 L1530.3 2098.4 L1534.3 2103.4 L1538.3 2108.2 L1542.3 2112.8 L1546.3 2117.2 L1550.3 2121.4 L1554.3 2125.3 L1558.3 2129.0 L1562.3 2132.5 L1566.3 2135.7 L1570.3 2138.7 L1574.3 2141.4 L1578.3 2144.0 L1582.3 2146.4 L1586.3 2148.6 L1590.3 2150.7 L1594.3 2152.6 L1598.3 2154.4 L1602.3 2156.0 L1606.3 2157.5 L1610.3 2159.0 L1614.3 2160.3 L1618.3 2161.5 L1622.3 2162.6 L1626.3 2163.7 L1630.3 2164.6 L1634.3 2165.5 L1638.3 2166.2 L1642.3 2166.9 L1646.3 2167.6 L1650.3 2168.1 L1654.3 2168.7 L1658.3 2169.1 L1662.3 2169.6 L1666.3 2170.0 L1670.3 2170.4 L1674.3 2170.7 L1678.3 2171.0 L1682.3 2171.3 L1686.3 2171.6 L1690.3 2171.9 L1694.3 2172.1 L1698.3 2172.3 L1702.3 2172.5 L1706.3 2172.7 L1710.3 2172.9 L1712.1 2173.0" stroke="#ff7f0e" stroke-dasharray="23.1 10"/>
<path d="M687.3 2173.7 L691.3 2173.4 L695.3 2173.1 L699.3 2172.8 L703.3 2172.4 L707.3 2172.1 L711.3 2171.8 L715.3 2171.5 L719.3 2171.2 L723.3 2170.9 L727.3 2170.5 L731.3 2170.2 L735.3 2169.9 L739.3 2169.6 L743.3 2169.3 L747.3 2168.9 L751.3 2168.6 L755.3 2168.3 L759.3 2168.0 L763.3 2167.6 L767.3 2167.3 L771.3 2167.0 L775.3 2166.6 L779.3 2166.3 L783.3 2165.9 L787.3 2165.6 L791.3 2165.2 L795.3 2164.8 L799.3 2164.4 L803.3 2164.0 L807.3 2163.5 L811.3 2163.0 L815.3 2162.4 L819.3 2161.8 L823.3 2161.1 L827.3 2160.4 L831.3 2159.6 L835.3 2158.8 L839.3 2158.0 L843.3 2157.1 L847.3 2156.2 L851.3 2155.2 L855.3 2154.2 L859.3 2153.3 L863.3 2152.3 L867.3 2151.2 L871.3 2150.2 L875.3 2149.2 L879.3 2148.1 L883.3 2147.1 L887.3 2146.0 L891.3 2145.0 L895.3 2143.9 L899.3 2142.8 L903.3 2141.7 L907.3 2140.6 L911.3 2139.6 L915.3 2138.5 L919.3 2137.4 L923.3 2136.4 L927.3 2135.4 L931.3 2134.3 L935.3 2133.3 L939.3 2132.1 L943.3 2131.0 L947.3 2129.8 L951.3 2128.4 L955.3 2127.0 L959.3 2125.5 L963.3 2123.8 L967.3 2122.0 L971.3 2120.0 L975.3 2117.8 L979.3 2115.4 L983.3 2112.7 L987.3 2109.8 L991.3 2106.6 L995.3 2103.1 L999.3 2099.3 L1003.3 2095.2 L1007.3 2090.8 L1011.3 2086.1 L1015.3 2081.1 L1019.3 2075.8 L1023.3 2070.3 L1027.3 2064.5 L1031.3 2058.4 L1035.3 2052.1 L1039.3 2045.5 L1043.3 2038.8 L1047.3 2031.9 L1051.3 2025.0 L1055.3 2018.1 L1059.3 2011.2 L1063.3 2004.4 L1067.3 1997.6 L1071.3 1991.0 L1075.3 1984.6 L1079.3 1978.3 L1083.3 1972.1 L1087.3 1966.2 L1091.3 1960.5 L1095.3 1955.1 L1099.3 1949.9 L1103.3 1945.1 L1107.3 1940.5 L1111.3 1936.3 L1115.3 1932.4 L1119.3 1928.9 L1123.3 1925.7 L1127.3 1922.8 L1131.3 1920.3 L1135.3 1918.1 L1139.3 1916.2 L1143.3 1914.6 L1147.3 1913.3 L1151.3 1912.2 L1155.3 1911.5 L1159.3 1911.0 L1163.3 1910.7 L1167.3 1910.5 L1171.3 1910.6 L1175.3 1910.8 L1179.3 1911.0 L1183.3 1911.4 L1187.3 1911.7 L1191.3 1912.1 L1195.3 1912.4 L1199.3 1912.7 L1203.3 1912.9 L1207.3 1913.0 L1211.3 1912.9 L1215.3 1912.7 L1219.3 1912.3 L1223.3 1911.6 L1227.3 1910.7 L1231.3 1909.5 L1235.3 1908.1 L1239.3 1906.3 L1243.3 1904.3 L1247.3 1901.8 L1251.3 1899.1 L1255.3 1896.0 L1259.3 1892.6 L1263.3 1888.9 L1267.3 1884.9 L1271.3 1880.8 L1275.3 1876.4 L1279.3 1872.0 L1283.3 1867.4 L1287.3 1862.7 L1291.3 1858.1 L1295.3 1853.5 L1299.3 1849.0 L1303.3 1844.6 L1307.3 1840.4 L1311.3 1836.5 L1315.3 1832.9 L1319.3 1829.6 L1323.3 1826.7 L1327.3 1824.3 L1331.3 1822.4 L1335.3 1821.0 L1339.3 1820.1 L1343.3 1819.8 L1347.3 1820.0 L1351.3 1820.9 L1355.3 1822.3 L1359.3 1824.4 L1363.3 1827.1 L1367.3 1830.4 L1371.3 1834.4 L1375.3 1839.1 L1379.3 1844.3 L1383.3 1850.1 L1387.3 1856.5 L1391.3 1863.3 L1395.3 1870.5 L1399.3 1878.0 L1403.3 1885.7 L1407.3 1893.6 L1411.3 1901.7 L1415.3 1909.9 L1419.3 1918.1 L1423.3 1926.4 L1427.3 1934.7 L1431.3 1943.0 L1435.3 1951.3 L1439.3 1959.7 L1443.3 1968.0 L1447.3 1976.3 L1451.3 1984.6 L1455.3 1992.7 L1459.3 2000.7 L1463.3 2008.6 L1467.3 2016.4 L1471.3 2024.0 L1475.3 2031.4 L1479.3 2038.7 L1483.3 2045.7 L1487.3 2052.5 L1491.3 2059.1 L1495.3 2065.5 L1499.3 2071.7 L1503.3 2077.7 L1507.3 2083.4 L1511.3 2088.9 L1515.3 2094.2 L1519.3 2099.3 L1523.3 2104.1 L1527.3 2108.8 L1531.3 2113.2 L1535.3 2117.3 L1539.3 2121.3 L1543.3 2125.1 L1547.3 2128.8 L1551.3 2132.3 L1555.3 2135.6 L1559.3 2138.8 L1563.3 2141.8 L1567.3 2144.6 L1571.3 2147.3 L1575.3 2149.8 L1579.3 2152.1 L1583.3 2154.2 L1587.3 2156.1 L1591.3 2157.8 L1595.3 2159.3 L1599.3 2160.6 L1603.3 2161.8 L1607.3 2162.8 L1611.3 2163.7 L1615.3 2164.5 L1619.3 2165.2 L1623.3 2165.8 L1627.3 2166.3 L1631.3 2166.8 L1635.3 2167.3 L1639.3 2167.7 L1643.3 2168.1 L1647.3 2168.5 L1651.3 2168.9 L1655.3 2169.2 L1659.3 2169.6 L1663.3 2170.0 L1667.3 2170.3 L1671.3 2170.7 L1675.3 2171.0 L1679.3 2171.4 L1683.3 2171.7 L1687.3 2172.0 L1691.3 2172.3 L1695.3 2172.6 L1696.4 2172.7" stroke="#2ca02c" stroke-dasharray="23.1 10"/>
<path d="M577.0 2174.5 L581.0 2174.5 L585.0 2174.4 L589.0 2174.3 L593.0 2174.2 L597.0 2174.1 L601.0 2174.1 L605.0 2174.0 L609.0 2173.9 L613.0 2173.9 L617.0 2173.8 L621.0 2173.8 L625.0 2173.8 L629.0 2173.7 L633.0 2173.7 L637.0 2173.6 L641.0 2173.6 L645.0 2173.6 L649.0 2173.6 L653.0 2173.5 L657.0 2173.5 L661.0 2173.5 L665.0 2173.5 L669.0 2173.4 L673.0 2173.4 L677.0 2173.3 L681.0 2173.3 L685.0 2173.2 L689.0 2173.1 L693.0 2173.0 L697.0 2172.9 L701.0 2172.8 L705.0 2172.6 L709.0 2172.4 L713.0 2172.2 L717.0 2171.9 L721.0 2171.6 L725.0 2171.2 L729.0 2170.9 L733.0 2170.4 L737.0 2170.0 L741.0 2169.5 L745.0 2168.9 L749.0 2168.4 L753.0 2167.7 L757.0 2167.0 L761.0 2166.3 L765.0 2165.5 L769.0 2164.7 L773.0 2163.8 L777.0 2162.9 L781.0 2161.9 L785.0 2160.8 L789.0 2159.6 L793.0 2158.4 L797.0 2157.1 L801.0 2155.8 L805.0 2154.3 L809.0 2152.8 L813.0 2151.2 L817.0 2149.6 L821.0 2147.8 L825.0 2146.0 L829.0 2144.1 L833.0 2142.2 L837.0 2140.1 L841.0 2138.0 L845.0 2135.9 L849.0 2133.7 L853.0 2131.4 L857.0 2129.1 L861.0 2126.8 L865.0 2124.5 L869.0 2122.2 L873.0 2119.8 L877.0 2117.5 L881.0 2115.3 L885.0 2113.0 L889.0 2110.7 L893.0 2108.5 L897.0 2106.2 L901.0 2104.0 L905.0 2101.9 L909.0 2099.7 L913.0 2097.6 L917.0 2095.4 L921.0 2093.4 L925.0 2091.3 L929.0 2089.3 L933.0 2087.4 L937.0 2085.4 L941.0 2083.6 L945.0 2081.7 L949.0 2079.9 L953.0 2078.1 L957.0 2076.3 L961.0 2074.5 L965.0 2072.8 L969.0 2071.1 L973.0 2069.3 L977.0 2067.6 L981.0 2065.8 L985.0 2064.0 L989.0 2062.1 L993.0 2060.2 L997.0 2058.2 L1001.0 2056.1 L1005.0 2053.9 L1009.0 2051.5 L1013.0 2049.0 L1017.0 2046.3 L1021.0 2043.4 L1025.0 2040.3 L1029.0 2037.1 L1033.0 2033.6 L1037.0 2029.9 L1041.0 2026.0 L1045.0 2021.8 L1049.0 2017.5 L1053.0 2013.0 L1057.0 2008.4 L1061.0 2003.6 L1065.0 1998.6 L1069.0 1993.6 L1073.0 1988.6 L1077.0 1983.5 L1081.0 1978.5 L1085.0 1973.5 L1089.0 1968.7 L1093.0 1963.9 L1097.0 1959.3 L1101.0 1954.9 L1105.0 1950.6 L1109.0 1946.6 L1113.0 1942.7 L1117.0 1939.0 L1121.0 1935.5 L1125.0 1932.1 L1129.0 1928.8 L1133.0 1925.6 L1137.0 1922.5 L1141.0 1919.4 L1145.0 1916.3 L1149.0 1913.2 L1153.0 1909.9 L1157.0 1906.5 L1161.0 1903.1 L1165.0 1899.5 L1169.0 1895.9 L1173.0 1892.1 L1177.0 1888.3 L1181.0 1884.3 L1185.0 1880.4 L1189.0 1876.4 L1193.0 1872.5 L1197.0 1868.7 L1201.0 1864.9 L1205.0 1861.3 L1209.0 1857.8 L1213.0 1854.4 L1217.0 1851.2 L1221.0 1848.1 L1225.0 1845.2 L1229.0 1842.5 L1233.0 1839.9 L1237.0 1837.5 L1241.0 1835.2 L1245.0 1833.2 L1249.0 1831.3 L1253.0 1829.6 L1257.0 1828.1 L1261.0 1826.7 L1265.0 1825.5 L1269.0 1824.5 L1273.0 1823.7 L1277.0 1823.1 L1281.0 1822.7 L1285.0 1822.5 L1289.0 1822.5 L1293.0 1822.8 L1297.0 1823.3 L1301.0 1824.2 L1305.0 1825.4 L1309.0 1827.0 L1313.0 1829.0 L1317.0 1831.3 L1321.0 1834.1 L1325.0 1837.3 L1329.0 1841.0 L1333.0 1845.1 L1337.0 1849.7 L1341.0 1854.8 L1345.0 1860.3 L1349.0 1866.3 L1353.0 1872.7 L1357.0 1879.6 L1361.0 1886.8 L1365.0 1894.4 L1369.0 1902.3 L1373.0 1910.6 L1377.0 1919.1 L1381.0 1927.9 L1385.0 1936.9 L1389.0 1946.1 L1393.0 1955.4 L1397.0 1964.8 L1401.0 1974.1 L1405.0 1983.4 L1409.0 1992.5 L1413.0 2001.4 L1417.0 2010.1 L1421.0 2018.5 L1425.0 2026.6 L1429.0 2034.4 L1433.0 2041.9 L1437.0 2049.1 L1441.0 2056.1 L1445.0 2062.8 L1449.0 2069.2 L1453.0 2075.3 L1457.0 2081.2 L1461.0 2087.0 L1465.0 2092.4 L1469.0 2097.7 L1473.0 2102.8 L1477.0 2107.6 L1481.0 2112.3 L1485.0 2116.7 L1489.0 2121.0 L1493.0 2125.0 L1497.0 2128.8 L1501.0 2132.4 L1505.0 2135.8 L1509.0 2139.0 L1513.0 2142.0 L1517.0 2144.8 L1521.0 2147.4 L1525.0 2149.7 L1529.0 2151.9 L1533.0 2153.8 L1537.0 2155.6 L1541.0 2157.3 L1545.0 2158.7 L1549.0 2160.1 L1553.0 2161.3 L1557.0 2162.5 L1561.0 2163.5 L1565.0 2164.4 L1569.0 2165.3 L1573.0 2166.0 L1577.0 2166.7 L1581.0 2167.2 L1585.0 2167.7 L1589.0 2168.2 L1593.0 2168.6 L1597.0 2168.9 L1601.0 2169.2 L1605.0 2169.4 L1609.0 2169.7 L1613.0 2169.9 L1617.0 2170.1 L1621.0 2170.3 L1625.0 2170.5 L1629.0 2170.7 L1633.0 2170.9 L1637.0 2171.0 L1641.0 2171.2 L1645.0 2171.4 L1649.0 2171.6 L1651.8 2171.7" stroke="#d62728" stroke-dasharray="23.1 10"/>
</g>
<g stroke="#000" stroke-width="3.33">
<line x1="445.5" y1="2195.0" x2="445.5" y2="2210.2"/>
<line x1="818.7" y1="2195.0" x2="818.7" y2="2210.2"/>
<line x1="1191.9" y1="2195.0" x2="1191.9" y2="2210.2"/>
<line x1="1565.1" y1="2195.0" x2="1565.1" y2="2210.2"/>
<line x1="1938.3" y1="2195.0" x2="1938.3" y2="2210.2"/>
<line x1="2311.6" y1="2195.0" x2="2311.6" y2="2210.2"/>
<line x1="274.3" y1="2177.6" x2="289.5" y2="2177.6"/>
<line x1="274.3" y1="2031.5" x2="289.5" y2="2031.5"/>
<line x1="274.3" y1="1885.4" x2="289.5" y2="1885.4"/>
</g>
<text x="259.4" y="2196.4" font-size="50" text-anchor="end" font-family="DejaVu Sans, Liberation Sans, sans-serif">0.0</text>
<text x="259.4" y="2050.3" font-size="50" text-anchor="end" font-family="DejaVu Sans, Liberation Sans, sans-serif">0.2</text>
<text x="259.4" y="1904.2" font-size="50" text-anchor="end" font-family="DejaVu Sans, Liberation Sans, sans-serif">0.4</text>
<rect x="289.5" y="1803.0" width="2036.0" height="392.0" fill="none" stroke="#000" stroke-width="3.33" stroke-linejoin="miter"/>
<text x="1306.5" y="1777.9" font-size="60" text-anchor="middle" font-family="DejaVu Sans, Liberation Sans, sans-serif">Dim. 4</text>
<rect x="1902.7" y="1819.7" width="405.3" height="207.5" rx="6.67" ry="6.67" fill="#fff" fill-opacity="0.8" stroke="#cccccc" stroke-opacity="0.8" stroke-width="4.17"/>
<line x1="1916" y1="1846.3" x2="1982.7" y2="1846.3" stroke="#1f77b4" stroke-opacity="0.5" stroke-width="6.25" stroke-linecap="square"/>
<text x="2009.4" y="1858.5" font-size="33.33" letter-spacing="0.11" font-family="DejaVu Sans, Liberation Sans, sans-serif">Reference</text>
<line x1="1916" y1="1896.0" x2="1982.7" y2="1896.0" stroke="#ff7f0e" stroke-opacity="0.5" stroke-width="6.25" stroke-dasharray="23.1 10"/>
<text x="2009.4" y="1908.2" font-size="33.33" letter-spacing="0.11" font-family="DejaVu Sans, Liberation Sans, sans-serif">Original</text>
<line x1="1916" y1="1945.6" x2="1982.7" y2="1945.6" stroke="#2ca02c" stroke-opacity="0.5" stroke-width="6.25" stroke-dasharray="23.1 10"/>
<text x="2009.4" y="1957.8" font-size="33.33" letter-spacing="0.11" font-family="DejaVu Sans, Liberation Sans, sans-serif">Gaussian Blur</text>
<line x1="1916" y1="1995.2" x2="1982.7" y2="1995.2" stroke="#d62728" stroke-opacity="0.5" stroke-width="6.25" stroke-dasharray="23.1 10"/>
<text x="2009.4" y="2007.5" font-size="33.33" letter-spacing="0.11" font-family="DejaVu Sans, Liberation Sans, sans-serif">Elastic Transform</text>
</g>
<g id="ax5">
<clipPath id="clip5"><rect x="289.5" y="2334.5" width="2036.0" height="392.0"/></clipPath>
<g clip-path="url(#clip5)" fill="none" stroke-width="6.25" stroke-opacity="0.5" stroke-linejoin="round">
<path d="M828.1 2703.9 L832.1 2703.3 L836.1 2702.6 L840.1 2701.9 L844.1 2701.2 L848.1 2700.4 L852.1 2699.6 L856.1 2698.7 L860.1 2697.8 L864.1 2696.8 L868.1 2695.8 L872.1 2694.7 L876.1 2693.6 L880.1 2692.4 L884.1 2691.3 L888.1 2690.0 L892.1 2688.8 L896.1 2687.5 L900.1 2686.1 L904.1 2684.8 L908.1 2683.4 L912.1 2681.9 L916.1 2680.4 L920.1 2678.9 L924.1 2677.4 L928.1 2675.8 L932.1 2674.1 L936.1 2672.4 L940.1 2670.6 L944.1 2668.8 L948.1 2666.9 L952.1 2664.9 L956.1 2662.9 L960.1 2660.8 L964.1 2658.7 L968.1 2656.5 L972.1 2654.3 L976.1 2651.9 L980.1 2649.6 L984.1 2647.2 L988.1 2644.7 L992.1 2642.2 L996.1 2639.6 L1000.1 2637.0 L1004.1 2634.3 L1008.1 2631.5 L1012.1 2628.6 L1016.1 2625.6 L1020.1 2622.4 L1024.1 2619.2 L1028.1 2615.8 L1032.1 2612.2 L1036.1 2608.5 L1040.1 2604.6 L1044.1 2600.6 L1048.1 2596.4 L1052.1 2592.1 L1056.1 2587.6 L1060.1 2582.9 L1064.1 2578.2 L1068.1 2573.3 L1072.1 2568.2 L1076.1 2563.1 L1080.1 2557.9 L1084.1 2552.7 L1088.1 2547.3 L1092.1 2542.0 L1096.1 2536.5 L1100.1 2531.1 L1104.1 2525.6 L1108.1 2520.2 L1112.1 2514.7 L1116.1 2509.3 L1120.1 2503.9 L1124.1 2498.5 L1128.1 2493.3 L1132.1 2488.1 L1136.1 2482.9 L1140.1 2477.9 L1144.1 2473.0 L1148.1 2468.2 L1152.1 2463.5 L1156.1 2458.9 L1160.1 2454.5 L1164.1 2450.2 L1168.1 2446.1 L1172.1 2442.2 L1176.1 2438.4 L1180.1 2434.8 L1184.1 2431.4 L1188.1 2428.2 L1192.1 2425.2 L1196.1 2422.4 L1200.1 2419.9 L1204.1 2417.6 L1208.1 2415.6 L1212.1 2413.9 L1216.1 2412.4 L1220.1 2411.3 L1224.1 2410.6 L1228.1 2410.1 L1232.1 2409.9 L1236.1 2410.0 L1240.1 2410.5 L1244.1 2411.1 L1248.1 2412.1 L1252.1 2413.3 L1256.1 2414.7 L1260.1 2416.3 L1264.1 2418.2 L1268.1 2420.2 L1272.1 2422.4 L1276.1 2424.7 L1280.1 2427.2 L1284.1 2429.9 L1288.1 2432.7 L1292.1 2435.7 L1296.1 2438.8 L1300.1 2442.0 L1304.1 2445.3 L1308.1 2448.8 L1312.1 2452.3 L1316.1 2456.0 L1320.1 2459.7 L1324.1 2463.6 L1328.1 2467.5 L1332.1 2471.5 L1336.1 2475.5 L1340.1 2479.6 L1344.1 2483.8 L1348.1 2487.9 L1352.1 2492.1 L1356.1 2496.3 L1360.1 2500.6 L1364.1 2504.8 L1368.1 2509.1 L1372.1 2513.4 L1376.1 2517.7 L1380.1 2522.0 L1384.1 2526.3 L1388.1 2530.6 L1392.1 2535.0 L1396.1 2539.3 L1400.1 2543.7 L1404.1 2548.0 L1408.1 2552.2 L1412.1 2556.5 L1416.1 2560.6 L1420.1 2564.7 L1424.1 2568.7 L1428.1 2572.7 L1432.1 2576.5 L1436.1 2580.2 L1440.1 2583.8 L1444.1 2587.3 L1448.1 2590.7 L1452.1 2594.0 L1456.1 2597.1 L1460.1 2600.1 L1464.1 2602.9 L1468.1 2605.7 L1472.1 2608.2 L1476.1 2610.7 L1480.1 2613.0 L1484.1 2615.1 L1488.1 2617.2 L1492.1 2619.0 L1496.1 2620.8 L1500.1 2622.4 L1504.1 2623.9 L1508.1 2625.3 L1512.1 2626.5 L1516.1 2627.6 L1520.1 2628.6 L1524.1 2629.5 L1528.1 2630.3 L1532.1 2630.9 L1536.1 2631.5 L1540.1 2631.9 L1544.1 2632.2 L1548.1 2632.4 L1552.1 2632.5 L1556.1 2632.5 L1560.1 2632.5 L1564.1 2632.3 L1568.1 2632.0 L1572.1 2631.7 L1576.1 2631.2 L1580.1 2630.7 L1584.1 2630.2 L1588.1 2629.5 L1592.1 2628.8 L1596.1 2628.1 L1600.1 2627.4 L1604.1 2626.6 L1608.1 2625.8 L1612.1 2625.0 L1616.1 2624.3 L1620.1 2623.5 L1624.1 2622.7 L1628.1 2622.0 L1632.1 2621.3 L1636.1 2620.7 L1640.1 2620.1 L1644.1 2619.5 L1648.1 2619.0 L1652.1 2618.6 L1656.1 2618.2 L1660.1 2617.8 L1664.1 2617.6 L1668.1 2617.4 L1672.1 2617.3 L1676.1 2617.2 L1680.1 2617.3 L1684.1 2617.5 L1688.1 2617.7 L1692.1 2618.1 L1696.1 2618.5 L1700.1 2619.1 L1704.1 2619.8 L1708.1 2620.6 L1712.1 2621.5 L1716.1 2622.6 L1720.1 2623.7 L1724.1 2625.0 L1728.1 2626.3 L1732.1 2627.8 L1736.1 2629.4 L1740.1 2631.0 L1744.1 2632.8 L1748.1 2634.7 L1752.1 2636.6 L1756.1 2638.6 L1760.1 2640.7 L1764.1 2642.8 L1768.1 2644.9 L1772.1 2647.1 L1776.1 2649.3 L1780.1 2651.5 L1784.1 2653.8 L1788.1 2656.0 L1792.1 2658.2 L1796.1 2660.4 L1800.1 2662.6 L1804.1 2664.7 L1808.1 2666.8 L1812.1 2668.8 L1816.1 2670.8 L1820.1 2672.8 L1824.1 2674.6 L1828.1 2676.4 L1832.1 2678.2 L1836.1 2679.9 L1840.1 2681.6 L1844.1 2683.2 L1848.1 2684.8 L1852.1 2686.3 L1856.1 2687.7 L1860.1 2689.1 L1864.1 2690.4 L1868.1 2691.7 L1872.1 2692.8 L1876.1 2693.9 L1880.1 2695.0 L1884.1 2696.0 L1888.1 2696.9 L1892.1 2697.7 L1896.1 2698.5 L1900.1 2699.2 L1904.1 2699.9 L1908.1 2700.5 L1912.1 2701.1 L1916.1 2701.7 L1920.1 2702.2 L1924.1 2702.6 L1928.1 2703.0 L1932.1 2703.4 L1936.1 2703.8 L1940.1 2704.1 L1944.1 2704.4 L1948.1 2704.7 L1952.1 2704.9 L1956.1 2705.1 L1960.1 2705.3 L1964.1 2705.5 L1968.1 2705.7 L1972.1 2705.8 L1976.1 2705.9 L1980.1 2706.0 L1984.1 2706.0 L1988.1 2706.0 L1992.1 2706.0 L1996.1 2706.0 L2000.1 2705.9 L2004.1 2705.9 L2008.1 2705.8 L2012.1 2705.7 L2016.1 2705.6 L2020.1 2705.5 L2024.1 2705.4 L2028.1 2705.3 L2032.1 2705.2 L2036.1 2705.1 L2040.1 2705.0 L2044.1 2704.9 L2048.1 2704.9 L2052.1 2704.8 L2056.1 2704.8 L2060.1 2704.8 L2064.1 2704.8 L2068.1 2704.8 L2072.1 2704.8 L2076.1 2704.9 L2080.1 2705.0 L2084.1 2705.0 L2088.1 2705.1 L2092.1 2705.3 L2096.1 2705.4 L2100.1 2705.5 L2104.1 2705.6 L2108.1 2705.7 L2112.1 2705.9 L2116.1 2706.0 L2120.1 2706.1 L2124.1 2706.2 L2128.1 2706.3 L2132.1 2706.5 L2136.1 2706.6 L2140.1 2706.7 L2144.1 2706.8 L2148.1 2706.9 L2152.1 2706.9 L2156.1 2707.0 L2160.1 2707.1 L2164.1 2707.2 L2168.1 2707.2 L2172.1 2707.3 L2176.1 2707.3 L2180.1 2707.4 L2184.1 2707.4 L2188.1 2707.5 L2192.1 2707.5 L2196.1 2707.6 L2200.1 2707.6 L2204.1 2707.6 L2208.1 2707.7 L2212.1 2707.7 L2216.1 2707.7 L2220.1 2707.7 L2224.1 2707.8 L2228.1 2707.8 L2232.1 2707.8 L2232.7 2707.8" stroke="#1f77b4" stroke-linecap="square"/>
<path d="M829.7 2701.3 L833.7 2700.7 L837.7 2700.1 L841.7 2699.4 L845.7 2698.8 L849.7 2698.1 L853.7 2697.3 L857.7 2696.6 L861.7 2695.8 L865.7 2694.9 L869.7 2694.0 L873.7 2693.1 L877.7 2692.1 L881.7 2691.0 L885.7 2689.9 L889.7 2688.8 L893.7 2687.6 L897.7 2686.4 L901.7 2685.2 L905.7 2683.9 L909.7 2682.6 L913.7 2681.2 L917.7 2679.8 L921.7 2678.3 L925.7 2676.7 L929.7 2675.1 L933.7 2673.5 L937.7 2671.8 L941.7 2670.0 L945.7 2668.1 L949.7 2666.2 L953.7 2664.2 L957.7 2662.2 L961.7 2660.1 L965.7 2657.9 L969.7 2655.6 L973.7 2653.3 L977.7 2650.9 L981.7 2648.4 L985.7 2645.9 L989.7 2643.3 L993.7 2640.7 L997.7 2637.9 L1001.7 2635.1 L1005.7 2632.3 L1009.7 2629.3 L1013.7 2626.3 L1017.7 2623.2 L1021.7 2620.0 L1025.7 2616.7 L1029.7 2613.4 L1033.7 2609.9 L1037.7 2606.3 L1041.7 2602.6 L1045.7 2598.8 L1049.7 2594.9 L1053.7 2590.9 L1057.7 2586.7 L1061.7 2582.4 L1065.7 2578.1 L1069.7 2573.6 L1073.7 2569.1 L1077.7 2564.5 L1081.7 2559.9 L1085.7 2555.2 L1089.7 2550.5 L1093.7 2545.8 L1097.7 2541.1 L1101.7 2536.3 L1105.7 2531.5 L1109.7 2526.8 L1113.7 2522.0 L1117.7 2517.3 L1121.7 2512.6 L1125.7 2508.0 L1129.7 2503.5 L1133.7 2499.1 L1137.7 2494.8 L1141.7 2490.5 L1145.7 2486.4 L1149.7 2482.5 L1153.7 2478.6 L1157.7 2474.9 L1161.7 2471.3 L1165.7 2467.9 L1169.7 2464.6 L1173.7 2461.5 L1177.7 2458.6 L1181.7 2455.8 L1185.7 2453.2 L1189.7 2450.8 L1193.7 2448.6 L1197.7 2446.6 L1201.7 2444.9 L1205.7 2443.3 L1209.7 2442.0 L1213.7 2440.9 L1217.7 2440.0 L1221.7 2439.3 L1225.7 2438.8 L1229.7 2438.4 L1233.7 2438.2 L1237.7 2438.2 L1241.7 2438.3 L1245.7 2438.5 L1249.7 2438.9 L1253.7 2439.3 L1257.7 2439.9 L1261.7 2440.6 L1265.7 2441.5 L1269.7 2442.4 L1273.7 2443.3 L1277.7 2444.4 L1281.7 2445.5 L1285.7 2446.8 L1289.7 2448.1 L1293.7 2449.4 L1297.7 2450.9 L1301.7 2452.4 L1305.7 2454.0 L1309.7 2455.6 L1313.7 2457.4 L1317.7 2459.3 L1321.7 2461.2 L1325.7 2463.3 L1329.7 2465.5 L1333.7 2467.8 L1337.7 2470.3 L1341.7 2472.8 L1345.7 2475.6 L1349.7 2478.5 L1353.7 2481.5 L1357.7 2484.7 L1361.7 2488.1 L1365.7 2491.6 L1369.7 2495.3 L1373.7 2499.2 L1377.7 2503.2 L1381.7 2507.3 L1385.7 2511.6 L1389.7 2515.9 L1393.7 2520.4 L1397.7 2524.9 L1401.7 2529.5 L1405.7 2534.2 L1409.7 2538.8 L1413.7 2543.4 L1417.7 2548.0 L1421.7 2552.6 L1425.7 2557.0 L1429.7 2561.4 L1433.7 2565.6 L1437.7 2569.7 L1441.7 2573.7 L1445.7 2577.4 L1449.7 2581.1 L1453.7 2584.5 L1457.7 2587.8 L1461.7 2591.0 L1465.7 2594.0 L1469.7 2596.9 L1473.7 2599.6 L1477.7 2602.1 L1481.7 2604.6 L1485.7 2606.9 L1489.7 2609.0 L1493.7 2611.1 L1497.7 2613.0 L1501.7 2614.8 L1505.7 2616.5 L1509.7 2618.0 L1513.7 2619.5 L1517.7 2620.9 L1521.7 2622.1 L1525.7 2623.3 L1529.7 2624.4 L1533.7 2625.3 L1537.7 2626.2 L1541.7 2627.0 L1545.7 2627.8 L1549.7 2628.4 L1553.7 2629.0 L1557.7 2629.5 L1561.7 2630.0 L1565.7 2630.4 L1569.7 2630.8 L1573.7 2631.1 L1577.7 2631.4 L1581.7 2631.6 L1585.7 2631.8 L1589.7 2631.9 L1593.7 2632.0 L1597.7 2632.0 L1601.7 2632.0 L1605.7 2631.9 L1609.7 2631.7 L1613.7 2631.5 L1617.7 2631.2 L1621.7 2630.9 L1625.7 2630.5 L1629.7 2630.0 L1633.7 2629.4 L1637.7 2628.8 L1641.7 2628.2 L1645.7 2627.5 L1649.7 2626.7 L1653.7 2625.9 L1657.7 2625.1 L1661.7 2624.3 L1665.7 2623.5 L1669.7 2622.6 L1673.7 2621.8 L1677.7 2621.0 L1681.7 2620.2 L1685.7 2619.5 L1689.7 2618.8 L1693.7 2618.2 L1697.7 2617.7 L1701.7 2617.3 L1705.7 2617.1 L1709.7 2616.9 L1713.7 2616.9 L1717.7 2617.1 L1721.7 2617.3 L1725.7 2617.8 L1729.7 2618.4 L1733.7 2619.1 L1737.7 2620.0 L1741.7 2621.1 L1745.7 2622.4 L1749.7 2623.8 L1753.7 2625.4 L1757.7 2627.1 L1761.7 2629.0 L1765.7 2631.0 L1769.7 2633.2 L1773.7 2635.5 L1777.7 2637.8 L1781.7 2640.3 L1785.7 2642.8 L1789.7 2645.3 L1793.7 2647.9 L1797.7 2650.5 L1801.7 2653.1 L1805.7 2655.7 L1809.7 2658.3 L1813.7 2660.8 L1817.7 2663.3 L1821.7 2665.8 L1825.7 2668.2 L1829.7 2670.5 L1833.7 2672.8 L1837.7 2675.0 L1841.7 2677.1 L1845.7 2679.2 L1849.7 2681.1 L1853.7 2683.0 L1857.7 2684.7 L1861.7 2686.4 L1865.7 2687.9 L1869.7 2689.3 L1873.7 2690.7 L1877.7 2691.9 L1881.7 2693.0 L1885.7 2694.0 L1889.7 2695.0 L1893.7 2695.8 L1897.7 2696.5 L1901.7 2697.2 L1905.7 2697.8 L1909.7 2698.3 L1913.7 2698.8 L1917.7 2699.2 L1921.7 2699.5 L1925.7 2699.8 L1929.7 2700.1 L1933.7 2700.3 L1937.7 2700.5 L1941.7 2700.6 L1945.7 2700.8 L1949.7 2700.9 L1953.7 2700.9 L1957.7 2701.0 L1961.7 2701.1 L1965.7 2701.2 L1969.7 2701.2 L1973.7 2701.3 L1977.7 2701.4 L1981.7 2701.6 L1985.7 2701.7 L1989.7 2701.8 L1993.7 2702.0 L1997.7 2702.2 L2001.7 2702.3 L2005.7 2702.5 L2009.7 2702.7 L2013.7 2702.9 L2017.7 2703.1 L2021.7 2703.3 L2025.7 2703.5 L2029.7 2703.7 L2033.7 2703.9 L2037.7 2704.1 L2041.7 2704.3 L2045.7 2704.5 L2049.7 2704.6 L2053.7 2704.8 L2057.7 2705.0 L2061.7 2705.1 L2065.7 2705.3 L2069.7 2705.5 L2073.7 2705.6 L2077.7 2705.8 L2081.7 2705.9 L2085.7 2706.1 L2089.7 2706.2 L2093.7 2706.4 L2097.7 2706.5 L2099.8 2706.6" stroke="#ff7f0e" stroke-dasharray="23.1 10"/>
<path d="M910.4 2696.6 L914.4 2695.5 L918.4 2694.4 L922.4 2693.3 L926.4 2692.2 L930.4 2691.1 L934.4 2689.9 L938.4 2688.7 L942.4 2687.5 L946.4 2686.2 L950.4 2684.8 L954.4 2683.4 L958.4 2682.0 L962.4 2680.5 L966.4 2678.9 L970.4 2677.2 L974.4 2675.5 L978.4 2673.8 L982.4 2671.9 L986.4 2670.0 L990.4 2668.1 L994.4 2666.0 L998.4 2663.9 L1002.4 2661.7 L1006.4 2659.4 L1010.4 2657.0 L1014.4 2654.5 L1018.4 2651.9 L1022.4 2649.2 L1026.4 2646.3 L1030.4 2643.3 L1034.4 2640.1 L1038.4 2636.6 L1042.4 2633.0 L1046.4 2629.1 L1050.4 2625.0 L1054.4 2620.6 L1058.4 2615.9 L1062.4 2610.9 L1066.4 2605.5 L1070.4 2599.9 L1074.4 2593.9 L1078.4 2587.7 L1082.4 2581.1 L1086.4 2574.3 L1090.4 2567.2 L1094.4 2560.0 L1098.4 2552.7 L1102.4 2545.3 L1106.4 2537.8 L1110.4 2530.3 L1114.4 2522.9 L1118.4 2515.4 L1122.4 2508.0 L1126.4 2500.6 L1130.4 2493.2 L1134.4 2485.8 L1138.4 2478.5 L1142.4 2471.3 L1146.4 2464.2 L1150.4 2457.1 L1154.4 2450.2 L1158.4 2443.4 L1162.4 2436.7 L1166.4 2430.2 L1170.4 2423.9 L1174.4 2417.8 L1178.4 2412.0 L1182.4 2406.3 L1186.4 2400.9 L1190.4 2395.7 L1194.4 2390.7 L1198.4 2385.8 L1202.4 2381.1 L1206.4 2376.6 L1210.4 2372.4 L1214.4 2368.5 L1218.4 2365.0 L1222.4 2361.8 L1226.4 2359.2 L1230.4 2356.9 L1234.4 2355.1 L1238.4 2353.7 L1242.4 2352.6 L1246.4 2351.9 L1250.4 2351.5 L1254.4 2351.3 L1258.4 2351.4 L1262.4 2351.8 L1266.4 2352.3 L1270.4 2353.0 L1274.4 2353.8 L1278.4 2354.9 L1282.4 2356.1 L1286.4 2357.5 L1290.4 2359.2 L1294.4 2361.0 L1298.4 2363.1 L1302.4 2365.4 L1306.4 2368.0 L1310.4 2370.8 L1314.4 2373.9 L1318.4 2377.3 L1322.4 2381.0 L1326.4 2385.0 L1330.4 2389.3 L1334.4 2394.0 L1338.4 2399.0 L1342.4 2404.3 L1346.4 2410.0 L1350.4 2416.1 L1354.4 2422.4 L1358.4 2429.0 L1362.4 2435.8 L1366.4 2442.9 L1370.4 2450.1 L1374.4 2457.3 L1378.4 2464.7 L1382.4 2472.0 L1386.4 2479.2 L1390.4 2486.4 L1394.4 2493.3 L1398.4 2500.0 L1402.4 2506.4 L1406.4 2512.4 L1410.4 2517.9 L1414.4 2523.0 L1418.4 2527.5 L1422.4 2531.5 L1426.4 2535.0 L1430.4 2537.9 L1434.4 2540.5 L1438.4 2542.6 L1442.4 2544.4 L1446.4 2545.9 L1450.4 2547.2 L1454.4 2548.3 L1458.4 2549.2 L1462.4 2550.1 L1466.4 2551.0 L1470.4 2551.8 L1474.4 2552.7 L1478.4 2553.7 L1482.4 2554.8 L1486.4 2556.0 L1490.4 2557.4 L1494.4 2558.9 L1498.4 2560.6 L1502.4 2562.6 L1506.4 2564.7 L1510.4 2567.0 L1514.4 2569.6 L1518.4 2572.5 L1522.4 2575.5 L1526.4 2578.8 L1530.4 2582.4 L1534.4 2586.1 L1538.4 2590.1 L1542.4 2594.2 L1546.4 2598.3 L1550.4 2602.6 L1554.4 2606.8 L1558.4 2611.0 L1562.4 2615.2 L1566.4 2619.4 L1570.4 2623.5 L1574.4 2627.6 L1578.4 2631.6 L1582.4 2635.5 L1586.4 2639.4 L1590.4 2643.1 L1594.4 2646.7 L1598.4 2650.1 L1602.4 2653.4 L1606.4 2656.5 L1610.4 2659.5 L1614.4 2662.2 L1618.4 2664.8 L1622.4 2667.2 L1626.4 2669.3 L1630.4 2671.3 L1634.4 2673.1 L1638.4 2674.8 L1642.4 2676.3 L1646.4 2677.6 L1650.4 2678.9 L1654.4 2680.1 L1658.4 2681.1 L1662.4 2682.1 L1666.4 2683.0 L1670.4 2683.9 L1674.4 2684.7 L1678.4 2685.5 L1682.4 2686.3 L1686.4 2687.0 L1690.4 2687.7 L1694.4 2688.4 L1698.4 2689.0 L1702.4 2689.7 L1706.4 2690.3 L1710.4 2690.8 L1714.4 2691.4 L1718.4 2692.0 L1722.4 2692.5 L1726.4 2693.0 L1730.4 2693.5 L1734.4 2694.0 L1738.4 2694.5 L1742.4 2694.9 L1746.4 2695.4 L1750.4 2695.8 L1754.4 2696.2 L1758.4 2696.7 L1762.4 2697.1 L1766.4 2697.6 L1770.4 2698.0 L1774.4 2698.4 L1778.4 2698.9 L1782.4 2699.3 L1786.4 2699.8 L1790.4 2700.2 L1794.4 2700.6 L1798.4 2701.1 L1802.4 2701.5 L1806.4 2701.9 L1810.4 2702.3 L1814.4 2702.7 L1818.4 2703.1 L1822.4 2703.5 L1826.4 2703.8 L1830.4 2704.2 L1834.4 2704.5 L1838.4 2704.9 L1842.4 2705.2 L1846.4 2705.5 L1850.4 2705.7 L1854.4 2706.0 L1858.4 2706.3 L1862.4 2706.5 L1866.4 2706.8 L1870.4 2707.0 L1874.4 2707.2 L1878.4 2707.5" stroke="#2ca02c" stroke-dasharray="23.1 10"/>
<path d="M863.6 2704.9 L867.6 2704.3 L871.6 2703.7 L875.6 2703.0 L879.6 2702.4 L883.6 2701.6 L887.6 2700.8 L891.6 2700.0 L895.6 2699.1 L899.6 2698.1 L903.6 2697.0 L907.6 2695.8 L911.6 2694.6 L915.6 2693.3 L919.6 2691.9 L923.6 2690.4 L927.6 2688.8 L931.6 2687.2 L935.6 2685.5 L939.6 2683.7 L943.6 2681.9 L947.6 2680.1 L951.6 2678.2 L955.6 2676.2 L959.6 2674.2 L963.6 2672.2 L967.6 2670.2 L971.6 2668.2 L975.6 2666.1 L979.6 2664.0 L983.6 2661.9 L987.6 2659.8 L991.6 2657.6 L995.6 2655.3 L999.6 2653.1 L1003.6 2650.8 L1007.6 2648.5 L1011.6 2646.1 L1015.6 2643.8 L1019.6 2641.3 L1023.6 2638.8 L1027.6 2636.2 L1031.6 2633.4 L1035.6 2630.6 L1039.6 2627.5 L1043.6 2624.3 L1047.6 2620.9 L1051.6 2617.4 L1055.6 2613.6 L1059.6 2609.6 L1063.6 2605.3 L1067.6 2600.9 L1071.6 2596.2 L1075.6 2591.3 L1079.6 2586.1 L1083.6 2580.7 L1087.6 2575.1 L1091.6 2569.3 L1095.6 2563.3 L1099.6 2557.0 L1103.6 2550.7 L1107.6 2544.2 L1111.6 2537.5 L1115.6 2530.8 L1119.6 2524.0 L1123.6 2517.1 L1127.6 2510.2 L1131.6 2503.3 L1135.6 2496.5 L1139.6 2489.7 L1143.6 2483.0 L1147.6 2476.4 L1151.6 2469.9 L1155.6 2463.5 L1159.6 2457.3 L1163.6 2451.3 L1167.6 2445.5 L1171.6 2439.9 L1175.6 2434.4 L1179.6 2429.2 L1183.6 2424.2 L1187.6 2419.4 L1191.6 2414.7 L1195.6 2410.2 L1199.6 2405.9 L1203.6 2401.8 L1207.6 2397.8 L1211.6 2394.2 L1215.6 2390.8 L1219.6 2387.7 L1223.6 2385.1 L1227.6 2382.9 L1231.6 2381.0 L1235.6 2379.6 L1239.6 2378.6 L1243.6 2377.9 L1247.6 2377.7 L1251.6 2377.8 L1255.6 2378.3 L1259.6 2379.2 L1263.6 2380.4 L1267.6 2381.9 L1271.6 2383.7 L1275.6 2385.9 L1279.6 2388.3 L1283.6 2391.0 L1287.6 2393.9 L1291.6 2397.1 L1295.6 2400.5 L1299.6 2404.0 L1303.6 2407.8 L1307.6 2411.7 L1311.6 2415.6 L1315.6 2419.7 L1319.6 2423.7 L1323.6 2427.8 L1327.6 2431.8 L1331.6 2435.8 L1335.6 2439.8 L1339.6 2443.7 L1343.6 2447.5 L1347.6 2451.3 L1351.6 2455.0 L1355.6 2458.6 L1359.6 2462.1 L1363.6 2465.6 L1367.6 2469.0 L1371.6 2472.4 L1375.6 2475.6 L1379.6 2478.9 L1383.6 2482.1 L1387.6 2485.3 L1391.6 2488.5 L1395.6 2491.7 L1399.6 2494.9 L1403.6 2498.1 L1407.6 2501.2 L1411.6 2504.4 L1415.6 2507.6 L1419.6 2510.8 L1423.6 2514.0 L1427.6 2517.2 L1431.6 2520.4 L1435.6 2523.6 L1439.6 2526.9 L1443.6 2530.1 L1447.6 2533.2 L1451.6 2536.4 L1455.6 2539.5 L1459.6 2542.6 L1463.6 2545.7 L1467.6 2548.7 L1471.6 2551.7 L1475.6 2554.6 L1479.6 2557.5 L1483.6 2560.3 L1487.6 2563.0 L1491.6 2565.6 L1495.6 2568.2 L1499.6 2570.7 L1503.6 2573.2 L1507.6 2575.5 L1511.6 2577.8 L1515.6 2580.1 L1519.6 2582.3 L1523.6 2584.4 L1527.6 2586.5 L1531.6 2588.5 L1535.6 2590.5 L1539.6 2592.5 L1543.6 2594.4 L1547.6 2596.4 L1551.6 2598.3 L1555.6 2600.2 L1559.6 2602.1 L1563.6 2604.0 L1567.6 2606.0 L1571.6 2608.0 L1575.6 2610.1 L1579.6 2612.3 L1583.6 2614.5 L1587.6 2616.7 L1591.6 2619.0 L1595.6 2621.4 L1599.6 2623.7 L1603.6 2626.1 L1607.6 2628.4 L1611.6 2630.8 L1615.6 2633.1 L1619.6 2635.4 L1623.6 2637.6 L1627.6 2639.8 L1631.6 2642.0 L1635.6 2644.1 L1639.6 2646.1 L1643.6 2648.1 L1647.6 2650.0 L1651.6 2651.9 L1655.6 2653.8 L1659.6 2655.6 L1663.6 2657.4 L1667.6 2659.1 L1671.6 2660.8 L1675.6 2662.5 L1679.6 2664.2 L1683.6 2665.8 L1687.6 2667.3 L1691.6 2668.8 L1695.6 2670.3 L1699.6 2671.8 L1703.6 2673.2 L1707.6 2674.5 L1711.6 2675.8 L1715.6 2677.0 L1719.6 2678.2 L1723.6 2679.4 L1727.6 2680.4 L1731.6 2681.5 L1735.6 2682.4 L1739.6 2683.4 L1743.6 2684.3 L1747.6 2685.2 L1751.6 2686.0 L1755.6 2686.8 L1759.6 2687.6 L1763.6 2688.4 L1767.6 2689.2 L1771.6 2690.0 L1775.6 2690.8 L1779.6 2691.5 L1783.6 2692.2 L1787.6 2692.9 L1791.6 2693.6 L1795.6 2694.2 L1799.6 2694.8 L1803.6 2695.4 L1807.6 2695.9 L1811.6 2696.4 L1815.6 2696.9 L1819.6 2697.4 L1823.6 2697.8 L1827.6 2698.2 L1831.6 2698.5 L1835.6 2698.9 L1839.6 2699.2 L1843.6 2699.5 L1847.6 2699.8 L1851.6 2700.1 L1855.6 2700.3 L1859.6 2700.6 L1863.6 2700.8 L1867.6 2701.1 L1871.6 2701.3 L1875.6 2701.5 L1879.6 2701.7 L1883.6 2702.0 L1887.6 2702.2 L1891.6 2702.4 L1895.6 2702.5 L1899.6 2702.7 L1903.6 2702.9 L1907.6 2703.1 L1911.6 2703.2 L1915.6 2703.4 L1919.6 2703.6 L1923.6 2703.7 L1927.6 2703.9 L1931.6 2704.0 L1935.6 2704.2 L1939.6 2704.3 L1943.6 2704.5 L1947.6 2704.6 L1951.6 2704.8 L1955.6 2704.9 L1959.6 2705.1 L1963.6 2705.3 L1967.6 2705.4 L1971.6 2705.6 L1975.6 2705.7 L1979.6 2705.9 L1983.6 2706.0 L1987.6 2706.1 L1991.6 2706.3 L1995.6 2706.4 L1999.6 2706.5 L2003.6 2706.6 L2007.6 2706.6 L2011.6 2706.7 L2015.6 2706.8 L2015.8 2706.8" stroke="#d62728" stroke-dasharray="23.1 10"/>
</g>
<g stroke="#000" stroke-width="3.33">
<line x1="445.5" y1="2726.5" x2="445.5" y2="2741.7"/>
<line x1="818.7" y1="2726.5" x2="818.7" y2="2741.7"/>
<line x1="1191.9" y1="2726.5" x2="1191.9" y2="2741.7"/>
<line x1="1565.1" y1="2726.5" x2="1565.1" y2="2741.7"/>
<line x1="1938.3" y1="2726.5" x2="1938.3" y2="2741.7"/>
<line x1="2311.6" y1="2726.5" x2="2311.6" y2="2741.7"/>
<line x1="274.3" y1="2709.0" x2="289.5" y2="2709.0"/>
<line x1="274.3" y1="2568.8" x2="289.5" y2="2568.8"/>
<line x1="274.3" y1="2428.6" x2="289.5" y2="2428.6"/>
</g>
<text x="259.4" y="2727.8" font-size="50" text-anchor="end" font-family="DejaVu Sans, Liberation Sans, sans-serif">0.0</text>
<text x="259.4" y="2587.6" font-size="50" text-anchor="end" font-family="DejaVu Sans, Liberation Sans, sans-serif">0.2</text>
<text x="259.4" y="2447.4" font-size="50" text-anchor="end" font-family="DejaVu Sans, Liberation Sans, sans-serif">0.4</text>
<rect x="289.5" y="2334.5" width="2036.0" height="392.0" fill="none" stroke="#000" stroke-width="3.33" stroke-linejoin="miter"/>
<text x="1306.5" y="2309.4" font-size="60" text-anchor="middle" font-family="DejaVu Sans, Liberation Sans, sans-serif">Dim. 5</text>
<rect x="1902.7" y="2351.2" width="405.3" height="207.5" rx="6.67" ry="6.67" fill="#fff" fill-opacity="0.8" stroke="#cccccc" stroke-opacity="0.8" stroke-width="4.17"/>
<line x1="1916" y1="2377.8" x2="1982.7" y2="2377.8" stroke="#1f77b4" stroke-opacity="0.5" stroke-width="6.25" stroke-linecap="square"/>
<text x="2009.4" y="2390.0" font-size="33.33" letter-spacing="0.11" font-family="DejaVu Sans, Liberation Sans, sans-serif">Reference</text>
<line x1="1916" y1="2427.5" x2="1982.7" y2="2427.5" stroke="#ff7f0e" stroke-opacity="0.5" stroke-width="6.25" stroke-dasharray="23.1 10"/>
<text x="2009.4" y="2439.7" font-size="33.33" letter-spacing="0.11" font-family="DejaVu Sans, Liberation Sans, sans-serif">Original</text>
<line x1="1916" y1="2477.1" x2="1982.7" y2="2477.1" stroke="#2ca02c" stroke-opacity="0.5" stroke-width="6.25" stroke-dasharray="23.1 10"/>
<text x="2009.4" y="2489.3" font-size="33.33" letter-spacing="0.11" font-family="DejaVu Sans, Liberation Sans, sans-serif">Gaussian Blur</text>
<line x1="1916" y1="2526.8" x2="1982.7" y2="2526.8" stroke="#d62728" stroke-opacity="0.5" stroke-width="6.25" stroke-dasharray="23.1 10"/>
<text x="2009.4" y="2538.9" font-size="33.33" letter-spacing="0.11" font-family="DejaVu Sans, Liberation Sans, sans-serif">Elastic Transform</text>
</g>
<text x="445.0" y="2793.0" font-size="50" text-anchor="middle" font-family="DejaVu Sans, Liberation Sans, sans-serif">−4</text>
<text x="818.2" y="2793.0" font-size="50" text-anchor="middle" font-family="DejaVu Sans, Liberation Sans, sans-serif">−2</text>
<text x="1191.4" y="2793.0" font-size="50" text-anchor="middle" font-family="DejaVu Sans, Liberation Sans, sans-serif">0</text>
<text x="1564.6" y="2793.0" font-size="50" text-anchor="middle" font-family="DejaVu Sans, Liberation Sans, sans-serif">2</text>
<text x="1937.8" y="2793.0" font-size="50" text-anchor="middle" font-family="DejaVu Sans, Liberation Sans, sans-serif">4</text>
<text x="2311.1" y="2793.0" font-size="50" text-anchor="middle" font-family="DejaVu Sans, Liberation Sans, sans-serif">6</text>
</svg></body></html>
